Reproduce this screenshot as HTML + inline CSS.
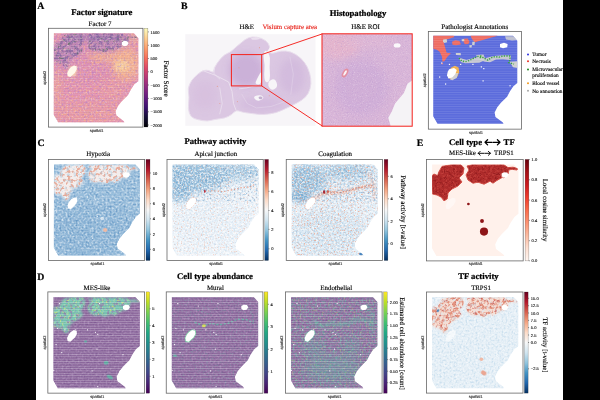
<!DOCTYPE html>
<html><head><meta charset="utf-8"><title>Figure</title>
<style>html,body{margin:0;padding:0;background:#fff;}body{width:600px;height:400px;overflow:hidden;font-family:"Liberation Serif",serif;}svg{display:block;}svg text{text-rendering:geometricPrecision;}</style>
</head><body>
<svg width="600" height="400" viewBox="0 0 600 400">
<defs>
<linearGradient id="cm_magma" x1="0" y1="1" x2="0" y2="0"><stop offset="0.000" stop-color="#000004"/><stop offset="0.100" stop-color="#140e36"/><stop offset="0.200" stop-color="#3b0f70"/><stop offset="0.300" stop-color="#641a80"/><stop offset="0.400" stop-color="#8c2981"/><stop offset="0.500" stop-color="#b73779"/><stop offset="0.600" stop-color="#de4968"/><stop offset="0.700" stop-color="#f7705c"/><stop offset="0.800" stop-color="#fe9f6d"/><stop offset="0.900" stop-color="#fecf92"/><stop offset="1.000" stop-color="#fcfdbf"/></linearGradient>
<linearGradient id="cm_RdBu_r" x1="0" y1="1" x2="0" y2="0"><stop offset="0.000" stop-color="#053061"/><stop offset="0.100" stop-color="#2166ac"/><stop offset="0.200" stop-color="#4393c3"/><stop offset="0.300" stop-color="#92c5de"/><stop offset="0.400" stop-color="#d1e5f0"/><stop offset="0.500" stop-color="#f7f7f7"/><stop offset="0.600" stop-color="#fddbc7"/><stop offset="0.700" stop-color="#f4a582"/><stop offset="0.800" stop-color="#d6604d"/><stop offset="0.900" stop-color="#b2182b"/><stop offset="1.000" stop-color="#67001f"/></linearGradient>
<linearGradient id="cm_viridis" x1="0" y1="1" x2="0" y2="0"><stop offset="0.000" stop-color="#440154"/><stop offset="0.100" stop-color="#482475"/><stop offset="0.200" stop-color="#414487"/><stop offset="0.300" stop-color="#355f8d"/><stop offset="0.400" stop-color="#2a788e"/><stop offset="0.500" stop-color="#21918c"/><stop offset="0.600" stop-color="#22a884"/><stop offset="0.700" stop-color="#44bf70"/><stop offset="0.800" stop-color="#7ad151"/><stop offset="0.900" stop-color="#bddf26"/><stop offset="1.000" stop-color="#fde725"/></linearGradient>
<linearGradient id="cm_Reds" x1="0" y1="1" x2="0" y2="0"><stop offset="0.000" stop-color="#fff5f0"/><stop offset="0.125" stop-color="#fee0d2"/><stop offset="0.250" stop-color="#fcbba1"/><stop offset="0.375" stop-color="#fc9272"/><stop offset="0.500" stop-color="#fb6a4a"/><stop offset="0.625" stop-color="#ef3b2c"/><stop offset="0.750" stop-color="#cb181d"/><stop offset="0.875" stop-color="#a50f15"/><stop offset="1.000" stop-color="#67000d"/></linearGradient>
<filter id="b05" x="-40%" y="-40%" width="180%" height="180%"><feGaussianBlur stdDeviation="0.5"/></filter>
<filter id="b1" x="-40%" y="-40%" width="180%" height="180%"><feGaussianBlur stdDeviation="1"/></filter>
<filter id="b15" x="-40%" y="-40%" width="180%" height="180%"><feGaussianBlur stdDeviation="1.5"/></filter>
<filter id="b2" x="-40%" y="-40%" width="180%" height="180%"><feGaussianBlur stdDeviation="2"/></filter>
<filter id="b3" x="-40%" y="-40%" width="180%" height="180%"><feGaussianBlur stdDeviation="3.5"/></filter>
<filter id="b5" x="-40%" y="-40%" width="180%" height="180%"><feGaussianBlur stdDeviation="5"/></filter>
<pattern id="stripes" patternUnits="userSpaceOnUse" width="10" height="2.36"><rect x="0" y="0" width="10" height="0.7" fill="#fff"/></pattern>
<filter id="nA_w" x="0" y="0" width="100%" height="100%" color-interpolation-filters="sRGB"><feTurbulence type="fractalNoise" baseFrequency="0.55" numOctaves="2" seed="11" result="n"/><feColorMatrix in="n" type="matrix" values="0 0 0 0 1.000  0 0 0 0 0.941  0 0 0 0 0.878  3.0 0 0 0 -1.55"/><feComposite in2="SourceGraphic" operator="in"/></filter>
<filter id="nA_d" x="0" y="0" width="100%" height="100%" color-interpolation-filters="sRGB"><feTurbulence type="fractalNoise" baseFrequency="0.5" numOctaves="2" seed="12" result="n"/><feColorMatrix in="n" type="matrix" values="0 0 0 0 0.682  0 0 0 0 0.486  0 0 0 0 0.769  3.0 0 0 0 -1.35"/><feComposite in2="SourceGraphic" operator="in"/></filter>
<filter id="nA_y" x="0" y="0" width="100%" height="100%" color-interpolation-filters="sRGB"><feTurbulence type="fractalNoise" baseFrequency="0.5" numOctaves="2" seed="13" result="n"/><feColorMatrix in="n" type="matrix" values="0 0 0 0 0.976  0 0 0 0 0.698  0 0 0 0 0.486  3.0 0 0 0 -1.4"/><feComposite in2="SourceGraphic" operator="in"/></filter>
<filter id="nA_p" x="0" y="0" width="100%" height="100%" color-interpolation-filters="sRGB"><feTurbulence type="fractalNoise" baseFrequency="0.3" numOctaves="2" seed="14" result="n"/><feColorMatrix in="n" type="matrix" values="0 0 0 0 0.494  0 0 0 0 0.373  0 0 0 0 0.612  5.0 0 0 0 -2.2"/><feComposite in2="SourceGraphic" operator="in"/></filter>
<filter id="nA_g" x="0" y="0" width="100%" height="100%" color-interpolation-filters="sRGB"><feTurbulence type="fractalNoise" baseFrequency="0.35" numOctaves="2" seed="15" result="n"/><feColorMatrix in="n" type="matrix" values="0 0 0 0 0.373  0 0 0 0 0.435  0 0 0 0 0.424  6.0 0 0 0 -3.6"/><feComposite in2="SourceGraphic" operator="in"/></filter>
<clipPath id="tc1"><polygon points="53.88,33.24 133.88,33.24 138.27,38.18 138.27,81.16 134.34,84.32 130.77,89.65 128.03,94.99 121.81,101.21 118.16,105.66 115.50,111.09 116.33,115.54 123.55,120.88 124.46,122.36 58.09,122.36 53.79,114.75"/></clipPath>
<clipPath id="mesA"><polygon points="60.62,40.18 63.55,35.11 72.34,33.56 82.12,33.56 85.05,36.67 84.07,42.51 80.16,46.41 83.09,50.30 79.18,54.19 73.32,57.11 69.41,61.01 68.63,66.85 65.50,68.60 62.57,64.90 58.66,62.95 54.17,61.98 53.38,54.19 53.38,44.46 55.73,42.51 59.25,44.07"/><polygon points="87.98,34.72 92.86,33.56 124.14,33.56 128.05,36.28 132.93,35.89 137.43,37.26 136.84,38.62 132.35,38.03 129.02,38.42 128.05,42.51 124.14,46.41 121.21,44.46 122.18,46.02 117.30,48.74 113.39,51.47 110.46,49.52 104.59,52.44 98.73,50.49 93.84,51.47 88.96,48.35 87.00,43.49 89.93,38.62"/></clipPath>
<clipPath id="heclip"><path d="M244.90,39.81 Q247.97,37.35 252.26,36.99 Q256.55,36.62 261.45,38.46 Q266.35,40.30 268.32,43.73 Q270.28,47.16 269.54,49.86 Q268.81,52.55 271.01,53.04 Q273.22,53.54 277.14,52.06 Q281.06,50.59 285.97,51.08 Q290.87,51.57 295.77,54.52 Q300.68,57.46 304.35,62.36 Q308.03,67.26 309.62,73.15 Q311.22,79.03 310.85,83.93 Q310.48,88.84 308.28,93.13 Q306.07,97.42 301.17,100.48 Q296.26,103.55 291.11,106.00 Q285.97,108.45 281.06,110.66 Q276.16,112.86 270.03,113.84 Q263.90,114.82 257.77,114.21 Q251.64,113.60 246.74,112.86 Q241.84,112.13 238.90,111.02 Q235.95,109.92 233.99,112.25 Q232.03,114.58 228.35,116.42 Q224.68,118.26 219.77,118.75 Q214.87,119.24 211.19,120.34 Q207.52,121.44 202.61,120.59 Q197.71,119.73 194.28,118.50 Q190.85,117.28 189.37,113.11 Q187.90,108.94 188.64,102.81 Q189.37,96.68 188.52,92.76 Q187.66,88.84 189.50,84.55 Q191.34,80.26 194.52,77.19 Q197.71,74.13 200.41,72.17 Q203.10,70.21 206.04,70.21 Q208.99,70.21 211.19,71.68 Q213.40,73.15 213.89,70.21 Q214.38,67.26 217.08,63.34 Q219.77,59.42 222.23,56.97 Q224.68,54.52 227.74,53.29 Q230.81,52.06 233.26,49.61 Q235.71,47.16 238.77,44.71 Q241.84,42.26 244.90,39.81 Z"/></clipPath>
<clipPath id="roiclip"><rect x="322" y="33.8" width="90.2" height="92.4"/></clipPath>
<filter id="nR_w" x="0" y="0" width="100%" height="100%" color-interpolation-filters="sRGB"><feTurbulence type="fractalNoise" baseFrequency="0.9" numOctaves="1" seed="21" result="n"/><feColorMatrix in="n" type="matrix" values="0 0 0 0 0.953  0 0 0 0 0.902  0 0 0 0 0.953  3.0 0 0 0 -1.6"/><feComposite in2="SourceGraphic" operator="in"/></filter>
<filter id="nR_d" x="0" y="0" width="100%" height="100%" color-interpolation-filters="sRGB"><feTurbulence type="fractalNoise" baseFrequency="0.8" numOctaves="1" seed="22" result="n"/><feColorMatrix in="n" type="matrix" values="0 0 0 0 0.706  0 0 0 0 0.576  0 0 0 0 0.812  3.0 0 0 0 -1.6"/><feComposite in2="SourceGraphic" operator="in"/></filter>
<clipPath id="tc2"><polygon points="433.30,35.87 512.92,35.87 517.29,40.73 517.29,83.06 513.38,86.17 509.83,91.42 507.10,96.68 500.91,102.81 497.27,107.19 494.63,112.54 495.45,116.92 502.64,122.17 503.55,123.63 437.49,123.63 433.21,116.14"/></clipPath>
<filter id="nC_w" x="0" y="0" width="100%" height="100%" color-interpolation-filters="sRGB"><feTurbulence type="fractalNoise" baseFrequency="0.5" numOctaves="2" seed="31" result="n"/><feColorMatrix in="n" type="matrix" values="0 0 0 0 1.000  0 0 0 0 1.000  0 0 0 0 1.000  3.0 0 0 0 -1.25"/><feComposite in2="SourceGraphic" operator="in"/></filter>
<filter id="nC_b" x="0" y="0" width="100%" height="100%" color-interpolation-filters="sRGB"><feTurbulence type="fractalNoise" baseFrequency="0.5" numOctaves="2" seed="32" result="n"/><feColorMatrix in="n" type="matrix" values="0 0 0 0 0.310  0 0 0 0 0.525  0 0 0 0 0.729  3.0 0 0 0 -1.3"/><feComposite in2="SourceGraphic" operator="in"/></filter>
<filter id="nC_w2" x="0" y="0" width="100%" height="100%" color-interpolation-filters="sRGB"><feTurbulence type="fractalNoise" baseFrequency="0.55" numOctaves="2" seed="33" result="n"/><feColorMatrix in="n" type="matrix" values="0 0 0 0 1.000  0 0 0 0 1.000  0 0 0 0 1.000  3.0 0 0 0 -1.15"/><feComposite in2="SourceGraphic" operator="in"/></filter>
<filter id="nC_b2" x="0" y="0" width="100%" height="100%" color-interpolation-filters="sRGB"><feTurbulence type="fractalNoise" baseFrequency="0.5" numOctaves="2" seed="34" result="n"/><feColorMatrix in="n" type="matrix" values="0 0 0 0 0.435  0 0 0 0 0.651  0 0 0 0 0.816  3.0 0 0 0 -1.35"/><feComposite in2="SourceGraphic" operator="in"/></filter>
<filter id="nC_r" x="0" y="0" width="100%" height="100%" color-interpolation-filters="sRGB"><feTurbulence type="fractalNoise" baseFrequency="0.55" numOctaves="2" seed="35" result="n"/><feColorMatrix in="n" type="matrix" values="0 0 0 0 0.933  0 0 0 0 0.604  0 0 0 0 0.486  4.0 0 0 0 -2.1"/><feComposite in2="SourceGraphic" operator="in"/></filter>
<filter id="nC_rr" x="0" y="0" width="100%" height="100%" color-interpolation-filters="sRGB"><feTurbulence type="fractalNoise" baseFrequency="0.34" numOctaves="2" seed="36" result="n"/><feColorMatrix in="n" type="matrix" values="0 0 0 0 0.890  0 0 0 0 0.557  0 0 0 0 0.455  6.0 0 0 0 -2.95"/><feComposite in2="SourceGraphic" operator="in"/></filter>
<filter id="nC_lb" x="0" y="0" width="100%" height="100%" color-interpolation-filters="sRGB"><feTurbulence type="fractalNoise" baseFrequency="0.3" numOctaves="2" seed="37" result="n"/><feColorMatrix in="n" type="matrix" values="0 0 0 0 0.659  0 0 0 0 0.796  0 0 0 0 0.886  5.0 0 0 0 -2.6"/><feComposite in2="SourceGraphic" operator="in"/></filter>
<clipPath id="tc3"><polygon points="53.98,164.45 135.42,164.45 139.89,169.50 139.89,213.44 135.88,216.67 132.25,222.12 129.46,227.57 123.13,233.94 119.41,238.48 116.71,244.04 117.55,248.58 124.90,254.04 125.83,255.55 58.26,255.55 53.89,247.77"/></clipPath>
<clipPath id="mesH"><polygon points="60.84,171.54 63.82,166.37 72.77,164.77 82.72,164.77 85.71,167.96 84.71,173.93 80.73,177.91 83.72,181.89 79.74,185.87 73.77,188.85 69.79,192.83 68.99,198.80 65.81,200.60 62.83,196.81 58.85,194.82 54.27,193.83 53.47,185.87 53.47,175.92 55.86,173.93 59.44,175.52"/><polygon points="88.69,165.97 93.66,164.77 125.50,164.77 129.48,167.56 134.45,167.16 139.03,168.55 138.43,169.95 133.86,169.35 130.47,169.75 129.48,173.93 125.50,177.91 122.51,175.92 123.51,177.51 118.54,180.30 114.56,183.08 111.57,181.09 105.60,184.08 99.63,182.09 94.66,183.08 89.69,179.90 87.70,174.92 90.68,169.95"/></clipPath>
<filter id="nJ_b" x="0" y="0" width="100%" height="100%" color-interpolation-filters="sRGB"><feTurbulence type="fractalNoise" baseFrequency="0.5" numOctaves="2" seed="38" result="n"/><feColorMatrix in="n" type="matrix" values="0 0 0 0 0.561  0 0 0 0 0.729  0 0 0 0 0.855  3.0 0 0 0 -1.3"/><feComposite in2="SourceGraphic" operator="in"/></filter>
<filter id="nJ_w" x="0" y="0" width="100%" height="100%" color-interpolation-filters="sRGB"><feTurbulence type="fractalNoise" baseFrequency="0.55" numOctaves="2" seed="39" result="n"/><feColorMatrix in="n" type="matrix" values="0 0 0 0 1.000  0 0 0 0 1.000  0 0 0 0 1.000  3.0 0 0 0 -1.2"/><feComposite in2="SourceGraphic" operator="in"/></filter>
<filter id="nJ_r" x="0" y="0" width="100%" height="100%" color-interpolation-filters="sRGB"><feTurbulence type="fractalNoise" baseFrequency="0.7" numOctaves="2" seed="40" result="n"/><feColorMatrix in="n" type="matrix" values="0 0 0 0 0.941  0 0 0 0 0.643  0 0 0 0 0.533  5.0 0 0 0 -2.95"/><feComposite in2="SourceGraphic" operator="in"/></filter>
<filter id="nJ_bd" x="0" y="0" width="100%" height="100%" color-interpolation-filters="sRGB"><feTurbulence type="fractalNoise" baseFrequency="0.5" numOctaves="2" seed="43" result="n"/><feColorMatrix in="n" type="matrix" values="0 0 0 0 0.373  0 0 0 0 0.592  0 0 0 0 0.776  4.0 0 0 0 -1.9"/><feComposite in2="SourceGraphic" operator="in"/></filter>
<clipPath id="tc4"><polygon points="172.58,164.46 254.06,164.46 258.53,169.51 258.53,213.49 254.53,216.72 250.90,222.18 248.10,227.64 241.77,234.01 238.05,238.56 235.35,244.12 236.18,248.67 243.54,254.13 244.47,255.65 176.87,255.65 172.49,247.86"/></clipPath>
<filter id="nG_b" x="0" y="0" width="100%" height="100%" color-interpolation-filters="sRGB"><feTurbulence type="fractalNoise" baseFrequency="0.5" numOctaves="2" seed="44" result="n"/><feColorMatrix in="n" type="matrix" values="0 0 0 0 0.525  0 0 0 0 0.702  0 0 0 0 0.839  3.0 0 0 0 -1.25"/><feComposite in2="SourceGraphic" operator="in"/></filter>
<filter id="nG_r" x="0" y="0" width="100%" height="100%" color-interpolation-filters="sRGB"><feTurbulence type="fractalNoise" baseFrequency="0.7" numOctaves="2" seed="45" result="n"/><feColorMatrix in="n" type="matrix" values="0 0 0 0 0.933  0 0 0 0 0.612  0 0 0 0 0.502  5.0 0 0 0 -2.85"/><feComposite in2="SourceGraphic" operator="in"/></filter>
<clipPath id="tc5"><polygon points="291.83,164.46 373.31,164.46 377.78,169.51 377.78,213.49 373.78,216.72 370.15,222.18 367.35,227.64 361.02,234.01 357.30,238.56 354.60,244.12 355.43,248.67 362.79,254.13 363.72,255.65 296.12,255.65 291.74,247.86"/></clipPath>
<filter id="nE_l" x="0" y="0" width="100%" height="100%" color-interpolation-filters="sRGB"><feTurbulence type="fractalNoise" baseFrequency="0.9" numOctaves="1" seed="41" result="n"/><feColorMatrix in="n" type="matrix" values="0 0 0 0 0.816  0 0 0 0 0.322  0 0 0 0 0.290  3.5 0 0 0 -1.8"/><feComposite in2="SourceGraphic" operator="in"/></filter>
<filter id="nE_l2" x="0" y="0" width="100%" height="100%" color-interpolation-filters="sRGB"><feTurbulence type="fractalNoise" baseFrequency="0.4" numOctaves="2" seed="42" result="n"/><feColorMatrix in="n" type="matrix" values="0 0 0 0 0.788  0 0 0 0 0.263  0 0 0 0 0.247  4.0 0 0 0 -1.9"/><feComposite in2="SourceGraphic" operator="in"/></filter>
<filter id="nE_d" x="0" y="0" width="100%" height="100%" color-interpolation-filters="sRGB"><feTurbulence type="fractalNoise" baseFrequency="0.45" numOctaves="2" seed="46" result="n"/><feColorMatrix in="n" type="matrix" values="0 0 0 0 0.490  0 0 0 0 0.059  0 0 0 0 0.078  4.0 0 0 0 -2.0"/><feComposite in2="SourceGraphic" operator="in"/></filter>
<clipPath id="tc6"><polygon points="432.11,164.47 513.97,164.47 518.46,169.55 518.46,213.70 514.44,216.95 510.79,222.43 507.98,227.91 501.62,234.31 497.88,238.87 495.17,244.46 496.01,249.02 503.40,254.51 504.33,256.03 436.41,256.03 432.01,248.21"/></clipPath>
<clipPath id="mesE"><polygon points="439.00,171.60 442.00,166.40 451.00,164.80 461.00,164.80 464.00,168.00 463.00,174.00 459.00,178.00 462.00,182.00 458.00,186.00 452.00,189.00 448.00,193.00 447.20,199.00 444.00,200.80 441.00,197.00 437.00,195.00 432.40,194.00 431.60,186.00 431.60,176.00 434.00,174.00 437.60,175.60"/><polygon points="467.00,166.00 472.00,164.80 504.00,164.80 508.00,167.60 513.00,167.20 517.60,168.60 517.00,170.00 512.40,169.40 509.00,169.80 508.00,174.00 504.00,178.00 501.00,176.00 502.00,177.60 497.00,180.40 493.00,183.20 490.00,181.20 484.00,184.20 478.00,182.20 473.00,183.20 468.00,180.00 466.00,175.00 469.00,170.00"/></clipPath>
<filter id="nD_l" x="0" y="0" width="100%" height="100%" color-interpolation-filters="sRGB"><feTurbulence type="fractalNoise" baseFrequency="0.5" numOctaves="2" seed="51" result="n"/><feColorMatrix in="n" type="matrix" values="0 0 0 0 0.741  0 0 0 0 0.627  0 0 0 0 0.792  3.0 0 0 0 -1.35"/><feComposite in2="SourceGraphic" operator="in"/></filter>
<filter id="nD_d" x="0" y="0" width="100%" height="100%" color-interpolation-filters="sRGB"><feTurbulence type="fractalNoise" baseFrequency="0.5" numOctaves="2" seed="52" result="n"/><feColorMatrix in="n" type="matrix" values="0 0 0 0 0.435  0 0 0 0 0.290  0 0 0 0 0.541  3.0 0 0 0 -1.45"/><feComposite in2="SourceGraphic" operator="in"/></filter>
<filter id="nD_t" x="0" y="0" width="100%" height="100%" color-interpolation-filters="sRGB"><feTurbulence type="fractalNoise" baseFrequency="0.6" numOctaves="2" seed="53" result="n"/><feColorMatrix in="n" type="matrix" values="0 0 0 0 0.310  0 0 0 0 0.690  0 0 0 0 0.612  5.0 0 0 0 -2.75"/><feComposite in2="SourceGraphic" operator="in"/></filter>
<filter id="nD_t2" x="0" y="0" width="100%" height="100%" color-interpolation-filters="sRGB"><feTurbulence type="fractalNoise" baseFrequency="0.45" numOctaves="2" seed="54" result="n"/><feColorMatrix in="n" type="matrix" values="0 0 0 0 0.424  0 0 0 0 0.769  0 0 0 0 0.651  5.0 0 0 0 -2.7"/><feComposite in2="SourceGraphic" operator="in"/></filter>
<filter id="nD_y" x="0" y="0" width="100%" height="100%" color-interpolation-filters="sRGB"><feTurbulence type="fractalNoise" baseFrequency="0.5" numOctaves="2" seed="55" result="n"/><feColorMatrix in="n" type="matrix" values="0 0 0 0 0.812  0 0 0 0 0.902  0 0 0 0 0.416  6.0 0 0 0 -3.6"/><feComposite in2="SourceGraphic" operator="in"/></filter>
<filter id="nD_p" x="0" y="0" width="100%" height="100%" color-interpolation-filters="sRGB"><feTurbulence type="fractalNoise" baseFrequency="0.3" numOctaves="2" seed="56" result="n"/><feColorMatrix in="n" type="matrix" values="0 0 0 0 0.557  0 0 0 0 0.435  0 0 0 0 0.651  5.0 0 0 0 -2.45"/><feComposite in2="SourceGraphic" operator="in"/></filter>
<filter id="nD_g" x="0" y="0" width="100%" height="100%" color-interpolation-filters="sRGB"><feTurbulence type="fractalNoise" baseFrequency="0.45" numOctaves="2" seed="57" result="n"/><feColorMatrix in="n" type="matrix" values="0 0 0 0 0.624  0 0 0 0 0.859  0 0 0 0 0.651  5.0 0 0 0 -2.7"/><feComposite in2="SourceGraphic" operator="in"/></filter>
<clipPath id="tc7"><polygon points="53.46,296.96 135.37,296.96 139.86,302.02 139.86,346.07 135.83,349.31 132.18,354.78 129.38,360.24 123.01,366.62 119.27,371.18 116.55,376.75 117.39,381.30 124.79,386.77 125.72,388.29 57.77,388.29 53.37,380.49"/></clipPath>
<clipPath id="mesM"><polygon points="60.36,304.07 63.36,298.88 72.36,297.29 82.37,297.29 85.37,300.48 84.37,306.46 80.37,310.45 83.37,314.44 79.37,318.43 73.36,321.43 69.36,325.42 68.56,331.40 65.36,333.20 62.36,329.41 58.36,327.41 53.75,326.41 52.95,318.43 52.95,308.46 55.35,306.46 58.96,308.06"/><polygon points="88.37,298.48 93.37,297.29 125.39,297.29 129.39,300.08 134.39,299.68 139.00,301.08 138.40,302.47 133.79,301.88 130.39,302.27 129.39,306.46 125.39,310.45 122.39,308.46 123.39,310.06 118.39,312.85 114.38,315.64 111.38,313.65 105.38,316.64 99.38,314.64 94.37,315.64 89.37,312.45 87.37,307.46 90.37,302.47"/></clipPath>
<clipPath id="tc8"><polygon points="171.86,296.96 253.68,296.96 258.16,302.03 258.16,346.10 254.14,349.34 250.50,354.81 247.69,360.28 241.33,366.66 237.59,371.22 234.88,376.79 235.72,381.35 243.11,386.82 244.04,388.34 176.16,388.34 171.76,380.54"/></clipPath>
<clipPath id="tc9"><polygon points="291.10,296.96 372.88,296.96 377.37,302.03 377.37,346.10 373.35,349.34 369.70,354.81 366.90,360.28 360.54,366.66 356.81,371.22 354.09,376.79 354.94,381.35 362.32,386.82 363.25,388.34 295.40,388.34 291.01,380.54"/></clipPath>
<filter id="nT_b" x="0" y="0" width="100%" height="100%" color-interpolation-filters="sRGB"><feTurbulence type="fractalNoise" baseFrequency="0.5" numOctaves="2" seed="61" result="n"/><feColorMatrix in="n" type="matrix" values="0 0 0 0 0.663  0 0 0 0 0.800  0 0 0 0 0.894  3.0 0 0 0 -1.35"/><feComposite in2="SourceGraphic" operator="in"/></filter>
<filter id="nT_w" x="0" y="0" width="100%" height="100%" color-interpolation-filters="sRGB"><feTurbulence type="fractalNoise" baseFrequency="0.55" numOctaves="2" seed="62" result="n"/><feColorMatrix in="n" type="matrix" values="0 0 0 0 1.000  0 0 0 0 1.000  0 0 0 0 1.000  3.0 0 0 0 -1.3"/><feComposite in2="SourceGraphic" operator="in"/></filter>
<filter id="nT_r" x="0" y="0" width="100%" height="100%" color-interpolation-filters="sRGB"><feTurbulence type="fractalNoise" baseFrequency="0.32" numOctaves="2" seed="63" result="n"/><feColorMatrix in="n" type="matrix" values="0 0 0 0 0.867  0 0 0 0 0.478  0 0 0 0 0.384  5.0 0 0 0 -2.25"/><feComposite in2="SourceGraphic" operator="in"/></filter>
<filter id="nT_rr" x="0" y="0" width="100%" height="100%" color-interpolation-filters="sRGB"><feTurbulence type="fractalNoise" baseFrequency="0.4" numOctaves="2" seed="64" result="n"/><feColorMatrix in="n" type="matrix" values="0 0 0 0 0.698  0 0 0 0 0.157  0 0 0 0 0.180  6.0 0 0 0 -3.5"/><feComposite in2="SourceGraphic" operator="in"/></filter>
<filter id="nT_lb" x="0" y="0" width="100%" height="100%" color-interpolation-filters="sRGB"><feTurbulence type="fractalNoise" baseFrequency="0.3" numOctaves="2" seed="65" result="n"/><feColorMatrix in="n" type="matrix" values="0 0 0 0 0.859  0 0 0 0 0.914  0 0 0 0 0.953  5.0 0 0 0 -2.7"/><feComposite in2="SourceGraphic" operator="in"/></filter>
<clipPath id="tc10"><polygon points="432.10,297.06 513.79,297.06 518.27,302.11 518.27,346.09 514.26,349.32 510.62,354.78 507.81,360.24 501.47,366.61 497.73,371.16 495.02,376.72 495.86,381.27 503.24,386.73 504.17,388.25 436.39,388.25 432.00,380.46"/></clipPath>
<clipPath id="mesT"><polygon points="438.97,304.15 441.97,298.97 450.95,297.38 460.93,297.38 463.92,300.57 462.92,306.54 458.93,310.53 461.93,314.51 457.93,318.50 451.95,321.48 447.96,325.47 447.16,331.44 443.96,333.24 440.97,329.45 436.98,327.46 432.39,326.46 431.59,318.50 431.59,308.53 433.98,306.54 437.58,308.14"/><polygon points="466.92,298.57 471.91,297.38 503.84,297.38 507.83,300.17 512.82,299.77 517.41,301.16 516.81,302.56 512.22,301.96 508.83,302.36 507.83,306.54 503.84,310.53 500.85,308.53 501.84,310.13 496.85,312.92 492.86,315.71 489.87,313.71 483.88,316.70 477.89,314.71 472.90,315.71 467.91,312.52 465.92,307.54 468.91,302.56"/></clipPath>
</defs>
<g opacity="0.999">
<rect x="0" y="0" width="600" height="400" fill="#fff"/>
<rect x="0" y="0" width="36" height="400" fill="#000"/>
<rect x="563" y="0" width="37" height="400" fill="#000"/>
<text x="37.30" y="8.80" font-family='"Liberation Serif", serif' font-size="9.8" font-weight="bold" text-anchor="start" fill="#000" stroke="#000" stroke-width="0.22">A</text>
<text x="180.90" y="8.80" font-family='"Liberation Serif", serif' font-size="9.8" font-weight="bold" text-anchor="start" fill="#000" stroke="#000" stroke-width="0.22">B</text>
<text x="37.60" y="146.30" font-family='"Liberation Serif", serif' font-size="9.8" font-weight="bold" text-anchor="start" fill="#000" stroke="#000" stroke-width="0.22">C</text>
<text x="37.20" y="279.50" font-family='"Liberation Serif", serif' font-size="9.8" font-weight="bold" text-anchor="start" fill="#000" stroke="#000" stroke-width="0.22">D</text>
<text x="416.80" y="145.60" font-family='"Liberation Serif", serif' font-size="9.8" font-weight="bold" text-anchor="start" fill="#000" stroke="#000" stroke-width="0.22">E</text>
<text x="101.80" y="15.40" font-family='"Liberation Serif", serif' font-size="8.7" font-weight="bold" text-anchor="middle" fill="#000" stroke="#000" stroke-width="0.22">Factor signature</text>
<text x="358.00" y="15.60" font-family='"Liberation Serif", serif' font-size="8.7" font-weight="bold" text-anchor="middle" fill="#000" stroke="#000" stroke-width="0.22">Histopathology</text>
<text x="215.40" y="144.30" font-family='"Liberation Serif", serif' font-size="8.7" font-weight="bold" text-anchor="middle" fill="#000" stroke="#000" stroke-width="0.22">Pathway activity</text>
<text x="215.00" y="279.00" font-family='"Liberation Serif", serif' font-size="8.7" font-weight="bold" text-anchor="middle" fill="#000" stroke="#000" stroke-width="0.22">Cell type abundance</text>
<text x="449.00" y="145.10" font-family='"Liberation Serif", serif' font-size="8.7" font-weight="bold" text-anchor="start" fill="#000" stroke="#000" stroke-width="0.22">Cell type</text>
<text x="503.60" y="145.10" font-family='"Liberation Serif", serif' font-size="8.7" font-weight="bold" text-anchor="start" fill="#000" stroke="#000" stroke-width="0.22">TF</text>
<path d="M492.00,142.30 L485.00,142.30 M487.60,139.70 L485.00,142.30 L487.60,144.90" fill="none" stroke="#000" stroke-width="1.25" stroke-linecap="round" stroke-linejoin="round"/>
<path d="M493.00,142.30 L500.00,142.30 M497.40,139.70 L500.00,142.30 L497.40,144.90" fill="none" stroke="#000" stroke-width="1.25" stroke-linecap="round" stroke-linejoin="round"/>
<text x="478.40" y="279.00" font-family='"Liberation Serif", serif' font-size="8.7" font-weight="bold" text-anchor="middle" fill="#000" stroke="#000" stroke-width="0.22">TF activity</text>
<g clip-path="url(#tc1)">
<rect x="48.40" y="28.30" width="94.50" height="98.80" fill="#e391b0" opacity="1"/>
<ellipse cx="89.81" cy="57.94" rx="47.25" ry="24.70" fill="#d98ab4" opacity="0.6" filter="url(#b5)"/>
<ellipse cx="125.47" cy="63.87" rx="14.17" ry="16.80" fill="#f6b48c" opacity="0.9" filter="url(#b3)"/>
<ellipse cx="121.81" cy="65.84" rx="7.56" ry="5.93" fill="#fbd8a0" opacity="0.8" filter="url(#b2)"/>
<ellipse cx="103.53" cy="56.95" rx="15.12" ry="4.94" fill="#f4b090" opacity="0.75" filter="url(#b2)"/>
<ellipse cx="133.70" cy="38.18" rx="4.73" ry="4.94" fill="#f4b494" opacity="0.7" filter="url(#b2)"/>
<ellipse cx="55.98" cy="89.56" rx="4.73" ry="19.76" fill="#f2ac90" opacity="0.55" filter="url(#b3)"/>
<ellipse cx="89.81" cy="113.27" rx="37.80" ry="9.88" fill="#ec9c9c" opacity="0.55" filter="url(#b3)"/>
<ellipse cx="112.67" cy="89.56" rx="11.34" ry="11.86" fill="#ee9ea0" opacity="0.5" filter="url(#b3)"/>
<rect x="48.40" y="28.30" width="94.50" height="98.80" fill="#000" opacity="0.6" filter="url(#nA_d)"/>
<rect x="48.40" y="28.30" width="94.50" height="98.80" fill="#000" opacity="0.6" filter="url(#nA_y)"/>
<polygon points="60.62,40.18 63.55,35.11 72.34,33.56 82.12,33.56 85.05,36.67 84.07,42.51 80.16,46.41 83.09,50.30 79.18,54.19 73.32,57.11 69.41,61.01 68.63,66.85 65.50,68.60 62.57,64.90 58.66,62.95 54.17,61.98 53.38,54.19 53.38,44.46 55.73,42.51 59.25,44.07" fill="#a27cb8" opacity="0.45" filter="url(#b2)"/>
<polygon points="87.98,34.72 92.86,33.56 124.14,33.56 128.05,36.28 132.93,35.89 137.43,37.26 136.84,38.62 132.35,38.03 129.02,38.42 128.05,42.51 124.14,46.41 121.21,44.46 122.18,46.02 117.30,48.74 113.39,51.47 110.46,49.52 104.59,52.44 98.73,50.49 93.84,51.47 88.96,48.35 87.00,43.49 89.93,38.62" fill="#a27cb8" opacity="0.45" filter="url(#b2)"/>
<ellipse cx="94.38" cy="37.19" rx="28.35" ry="3.46" fill="#9a74b2" opacity="0.55" filter="url(#b15)"/>
<g clip-path="url(#mesA)">
<rect x="48.40" y="28.30" width="94.50" height="98.80" fill="#000" opacity="0.75" filter="url(#nA_p)"/>
<rect x="48.40" y="28.30" width="94.50" height="98.80" fill="#000" opacity="0.8" filter="url(#nA_g)"/>
</g>
<ellipse cx="72.62" cy="71.28" rx="3.97" ry="5.14" fill="#f8d6ac" opacity="0.85" filter="url(#b1)"/>
<rect x="48.40" y="28.30" width="94.50" height="98.80" fill="#000" opacity="0.4" filter="url(#nA_w)"/>
<rect x="48.40" y="28.30" width="94.50" height="98.80" fill="url(#stripes)" opacity="0.14"/>
</g>
<polygon points="73.81,65.55 76.56,66.34 76.83,69.30 74.91,72.76 72.17,75.23 70.34,76.91 67.69,76.22 67.14,73.25 68.78,69.80 70.80,67.33" fill="#fff8ea"/>
<polygon points="121.81,42.13 124.10,40.75 127.30,41.14 128.58,43.32 127.02,45.69 123.82,46.18 121.81,44.70" fill="#fff"/>
<rect x="48.40" y="28.30" width="94.50" height="98.80" fill="none" stroke="#666" stroke-width="0.8"/>
<rect x="144.00" y="28.30" width="3.90" height="98.70" fill="url(#cm_magma)" stroke="#222" stroke-width="0.3" stroke-opacity="0.7"/>
<line x1="147.90" x2="148.90" y1="31.90" y2="31.90" stroke="#222" stroke-width="0.5"/>
<text x="150.60" y="33.51" font-family='"Liberation Sans", sans-serif' font-size="4.05" font-weight="normal" text-anchor="start" fill="#111" stroke="#111" stroke-width="0.12">1500</text>
<line x1="147.90" x2="148.90" y1="45.30" y2="45.30" stroke="#222" stroke-width="0.5"/>
<text x="150.60" y="46.91" font-family='"Liberation Sans", sans-serif' font-size="4.05" font-weight="normal" text-anchor="start" fill="#111" stroke="#111" stroke-width="0.12">1000</text>
<line x1="147.90" x2="148.90" y1="58.50" y2="58.50" stroke="#222" stroke-width="0.5"/>
<text x="150.60" y="60.11" font-family='"Liberation Sans", sans-serif' font-size="4.05" font-weight="normal" text-anchor="start" fill="#111" stroke="#111" stroke-width="0.12">500</text>
<line x1="147.90" x2="148.90" y1="71.80" y2="71.80" stroke="#222" stroke-width="0.5"/>
<text x="150.60" y="73.41" font-family='"Liberation Sans", sans-serif' font-size="4.05" font-weight="normal" text-anchor="start" fill="#111" stroke="#111" stroke-width="0.12">0</text>
<line x1="147.90" x2="148.90" y1="85.00" y2="85.00" stroke="#222" stroke-width="0.5"/>
<text x="150.60" y="86.61" font-family='"Liberation Sans", sans-serif' font-size="4.05" font-weight="normal" text-anchor="start" fill="#111" stroke="#111" stroke-width="0.12">−500</text>
<line x1="147.90" x2="148.90" y1="98.40" y2="98.40" stroke="#222" stroke-width="0.5"/>
<text x="150.60" y="100.01" font-family='"Liberation Sans", sans-serif' font-size="4.05" font-weight="normal" text-anchor="start" fill="#111" stroke="#111" stroke-width="0.12">−1000</text>
<line x1="147.90" x2="148.90" y1="111.80" y2="111.80" stroke="#222" stroke-width="0.5"/>
<text x="150.60" y="113.41" font-family='"Liberation Sans", sans-serif' font-size="4.05" font-weight="normal" text-anchor="start" fill="#111" stroke="#111" stroke-width="0.12">−1500</text>
<line x1="147.90" x2="148.90" y1="125.00" y2="125.00" stroke="#222" stroke-width="0.5"/>
<text x="150.60" y="126.61" font-family='"Liberation Sans", sans-serif' font-size="4.05" font-weight="normal" text-anchor="start" fill="#111" stroke="#111" stroke-width="0.12">−2000</text>
<text x="100.00" y="26.20" font-family='"Liberation Serif", serif' font-size="6.9" font-weight="normal" text-anchor="middle" fill="#000" stroke="#000" stroke-width="0.14">Factor 7</text>
<text x="96.65" y="131.50" font-family='"Liberation Sans", sans-serif' font-size="4.05" font-weight="normal" text-anchor="middle" fill="#222" stroke="#222" stroke-width="0.1">spatial1</text>
<text x="46.10" y="77.70" font-family='"Liberation Sans", sans-serif' font-size="4.05" font-weight="normal" text-anchor="middle" fill="#222" transform="rotate(-90 46.10 77.70)" stroke="#222" stroke-width="0.1">spatial2</text>
<text x="163.80" y="78.60" font-family='"Liberation Serif", serif' font-size="7.1" font-weight="normal" text-anchor="middle" fill="#000" transform="rotate(90 163.80 78.60)" stroke="#000" stroke-width="0.14">Factor Score</text>
<rect x="185.3" y="34.2" width="130.2" height="91.6" fill="#f7f5f8"/>
<path d="M244.90,39.81 Q247.97,37.35 252.26,36.99 Q256.55,36.62 261.45,38.46 Q266.35,40.30 268.32,43.73 Q270.28,47.16 269.54,49.86 Q268.81,52.55 271.01,53.04 Q273.22,53.54 277.14,52.06 Q281.06,50.59 285.97,51.08 Q290.87,51.57 295.77,54.52 Q300.68,57.46 304.35,62.36 Q308.03,67.26 309.62,73.15 Q311.22,79.03 310.85,83.93 Q310.48,88.84 308.28,93.13 Q306.07,97.42 301.17,100.48 Q296.26,103.55 291.11,106.00 Q285.97,108.45 281.06,110.66 Q276.16,112.86 270.03,113.84 Q263.90,114.82 257.77,114.21 Q251.64,113.60 246.74,112.86 Q241.84,112.13 238.90,111.02 Q235.95,109.92 233.99,112.25 Q232.03,114.58 228.35,116.42 Q224.68,118.26 219.77,118.75 Q214.87,119.24 211.19,120.34 Q207.52,121.44 202.61,120.59 Q197.71,119.73 194.28,118.50 Q190.85,117.28 189.37,113.11 Q187.90,108.94 188.64,102.81 Q189.37,96.68 188.52,92.76 Q187.66,88.84 189.50,84.55 Q191.34,80.26 194.52,77.19 Q197.71,74.13 200.41,72.17 Q203.10,70.21 206.04,70.21 Q208.99,70.21 211.19,71.68 Q213.40,73.15 213.89,70.21 Q214.38,67.26 217.08,63.34 Q219.77,59.42 222.23,56.97 Q224.68,54.52 227.74,53.29 Q230.81,52.06 233.26,49.61 Q235.71,47.16 238.77,44.71 Q241.84,42.26 244.90,39.81 Z" fill="#dbc7e2" stroke="#e9deed" stroke-width="1.0"/>
<g clip-path="url(#heclip)">
<ellipse cx="246" cy="70" rx="17" ry="17" fill="#c9aed7" opacity="0.9" filter="url(#b3)"/>
<ellipse cx="292" cy="76" rx="13" ry="18" fill="#d0b8dc" opacity="0.75" filter="url(#b3)"/>
<ellipse cx="262" cy="104" rx="22" ry="7" fill="#d0b7dc" opacity="0.7" filter="url(#b3)"/>
<ellipse cx="205" cy="95" rx="12" ry="14" fill="#d6bddd" opacity="0.6" filter="url(#b3)"/>
</g>
<path d="M264.14,52.84 Q265.19,49.69 266.69,51.34 Q268.19,52.99 269.24,55.24 Q270.28,57.49 269.84,61.99 Q269.39,66.48 269.84,71.73 Q270.28,76.98 269.54,79.83 Q268.79,82.67 266.84,82.22 Q264.89,81.78 264.44,77.88 Q263.99,73.98 264.44,69.48 Q264.89,64.98 263.99,60.49 Q263.09,55.99 264.14,52.84 Z" fill="#f7f5f8"/>
<path d="M260.39,72.78 Q261.29,71.28 261.44,78.03 Q261.59,84.77 258.14,84.47 Q254.69,84.17 255.89,81.48 Q257.09,78.78 258.29,76.53 Q259.49,74.28 260.39,72.78 Z" fill="#f7f5f8"/>
<path d="M268.49,49.39 Q270.58,46.39 271.93,46.09 Q273.28,45.79 272.53,48.49 Q271.78,51.19 269.84,52.54 Q267.89,53.89 267.14,53.14 Q266.39,52.39 268.49,49.39 Z" fill="#f7f5f8"/>
<path d="M251.24,38.90 Q250.49,37.70 254.99,37.55 Q259.49,37.40 259.79,38.45 Q260.09,39.50 256.04,39.80 Q251.99,40.10 251.24,38.90 Z" fill="#efe6f2" opacity="0.8"/>
<path d="M268.32,83.20 Q268.81,80.50 271.99,79.52 Q275.18,78.54 276.65,82.71 Q278.12,86.88 274.93,88.84 Q271.75,90.80 269.79,88.35 Q267.82,85.90 268.32,83.20 Z" fill="#f7f5f8"/>
<path d="M254.83,98.89 Q252.62,96.19 257.04,95.46 Q261.45,94.72 262.92,96.68 Q264.39,98.64 260.72,100.12 Q257.04,101.59 254.83,98.89 Z" fill="#f7f5f8"/>
<path d="M258.75,98.15 Q258.02,96.68 259.98,96.44 Q261.94,96.19 262.43,97.42 Q262.92,98.64 261.21,99.13 Q259.49,99.62 258.75,98.15 Z" fill="#8f6aa8" opacity="0.5"/>
<path d="M203.10,70.70 L216.10,75.60 L228.60,81.97 L232.03,91.29 L233.50,103.55 L235.95,109.92" fill="none" stroke="#eadfee" stroke-width="1.0" stroke-linejoin="round" stroke-linecap="round" opacity="1"/>
<path d="M214.38,67.26 L213.89,73.64 L219.77,79.03" fill="none" stroke="#eadfee" stroke-width="0.9" stroke-linejoin="round" stroke-linecap="round" opacity="1"/>
<path d="M219.77,87.86 L222.23,103.55 L219.77,113.84" fill="none" stroke="#eadfee" stroke-width="0.8" stroke-linejoin="round" stroke-linecap="round" opacity="1"/>
<path d="M239.39,88.84 L246.74,87.86 L256.55,85.41" fill="none" stroke="#eadfee" stroke-width="0.8" stroke-linejoin="round" stroke-linecap="round" opacity="1"/>
<path d="M241.84,94.23 L247.23,103.55 L256.55,107.96 L271.26,106.49 L285.97,101.10" fill="none" stroke="#e4d6ea" stroke-width="0.7" stroke-linejoin="round" stroke-linecap="round" opacity="0.8"/>
<path d="M289.89,56.97 L293.32,74.13 L290.87,94.23" fill="none" stroke="#e4d6ea" stroke-width="0.7" stroke-linejoin="round" stroke-linecap="round" opacity="0.7"/>
<circle cx="238.90" cy="67.75" r="0.55" fill="#e59a8a" opacity="0.8"/>
<circle cx="237.43" cy="101.59" r="0.55" fill="#e59a8a" opacity="0.8"/>
<circle cx="219.77" cy="103.55" r="0.55" fill="#e59a8a" opacity="0.8"/>
<circle cx="217.32" cy="86.39" r="0.55" fill="#e59a8a" opacity="0.8"/>
<circle cx="269.30" cy="95.70" r="0.55" fill="#e59a8a" opacity="0.8"/>
<circle cx="259.49" cy="47.65" r="0.55" fill="#e59a8a" opacity="0.8"/>
<rect x="231.4" y="54.6" width="30.3" height="31.3" fill="none" stroke="#f4221c" stroke-width="1.0"/>
<line x1="261.7" y1="54.6" x2="322.3" y2="33.9" stroke="#f4221c" stroke-width="0.95"/>
<line x1="261.7" y1="85.9" x2="322.3" y2="126.0" stroke="#f4221c" stroke-width="0.95"/>
<text x="246.80" y="28.60" font-family='"Liberation Serif", serif' font-size="6.9" font-weight="normal" text-anchor="middle" fill="#000" stroke="#000" stroke-width="0.14">H&amp;E</text>
<text x="289.80" y="28.60" font-family='"Liberation Serif", serif' font-size="6.85" font-weight="normal" text-anchor="middle" fill="#e8261e" stroke="#e8261e" stroke-width="0.14">Visium capture area</text>
<text x="365.50" y="29.30" font-family='"Liberation Serif", serif' font-size="7.0" font-weight="normal" text-anchor="middle" fill="#000" stroke="#000" stroke-width="0.14">H&amp;E ROI</text>
<g clip-path="url(#roiclip)">
<rect x="322.00" y="33.80" width="90.20" height="92.40" fill="#d9b6d8" opacity="1"/>
<ellipse cx="335.35" cy="44.89" rx="25.26" ry="14.78" fill="#e6b6cc" opacity="0.85" filter="url(#b3)"/>
<ellipse cx="370.25" cy="41.19" rx="27.06" ry="6.47" fill="#e0b8d4" opacity="0.7" filter="url(#b3)"/>
<ellipse cx="361.53" cy="87.39" rx="27.06" ry="27.72" fill="#cbaad8" opacity="0.6" filter="url(#b5)"/>
<rect x="322.00" y="33.80" width="90.20" height="92.40" fill="#000" opacity="0.45" filter="url(#nR_d)"/>
<rect x="322.00" y="33.80" width="90.20" height="92.40" fill="#000" opacity="0.45" filter="url(#nR_w)"/>
<polygon points="412.72,80.00 407.52,83.64 403.88,93.00 395.04,103.40 391.92,111.20 388.28,117.70 390.88,126.80 412.72,126.80" fill="#f5f3f6"/>
<ellipse cx="397.12" cy="45.42" rx="3.4" ry="2.2" fill="#fbf8fb"/>
<ellipse cx="345.12" cy="72.98" rx="2.6" ry="4.8" fill="#e48fa0" transform="rotate(30 345.12 72.98)"/>
<ellipse cx="345.12" cy="72.98" rx="1.1" ry="3.0" fill="#fbf4f6" transform="rotate(30 345.12 72.98)"/>
</g>
<rect x="322" y="33.8" width="90.2" height="92.4" fill="none" stroke="#f4221c" stroke-width="1"/>
<g clip-path="url(#tc2)">
<rect x="428.35" y="31.50" width="93.15" height="97.65" fill="#5c6cdc" opacity="1"/>
<polygon points="432.67,34.67 453.09,34.67 454.37,37.00 449.24,38.87 445.50,39.80 443.87,42.84 445.50,48.67 446.67,52.75 450.87,53.34 447.37,56.84 444.57,61.04 442.47,61.74 442.00,56.84 439.67,51.70 436.87,49.84 432.67,48.67" fill="#ee6c62" opacity="1"/>
<polygon points="451.92,41.67 455.42,40.27 459.51,41.09 460.91,44.59 456.00,45.29 452.50,44.70" fill="#ee6c62" opacity="1"/>
<polygon points="463.59,38.87 467.67,38.40 469.54,41.67 468.37,44.12 464.76,44.35 463.59,41.67" fill="#ee6c62" opacity="1"/>
<polygon points="470.47,34.67 498.01,34.67 496.84,36.07 488.68,38.17 482.84,39.92 478.18,41.20 474.91,42.37 473.04,40.50 471.17,37.58" fill="#ee6c62" opacity="1"/>
<polygon points="441.54,62.91 442.94,62.91 442.94,64.31 441.54,64.31" fill="#ee6c62" opacity="1"/>
<polygon points="443.17,39.57 446.67,39.10 447.14,42.14 444.34,43.07 442.94,41.67" fill="#cfcfcf" opacity="1"/>
<polygon points="461.61,39.33 464.17,39.10 464.41,41.20 461.84,41.20" fill="#cfcfcf" opacity="1"/>
<polygon points="472.34,41.67 474.91,41.67 474.44,45.17 472.11,44.94" fill="#cfcfcf" opacity="1"/>
<polygon points="469.31,45.17 471.87,44.94 471.64,47.50 469.54,47.50" fill="#cfcfcf" opacity="1"/>
<polygon points="455.77,53.10 460.67,53.10 460.91,55.20 456.00,54.97" fill="#cfcfcf" opacity="1"/>
<polygon points="505.00,36.20 517.20,36.20 517.20,40.00 512.00,40.40 506.00,39.60" fill="#cfcfcf" opacity="0.85"/>
<polygon points="458.57,57.54 466.51,60.11 477.01,57.07 482.84,56.14 484.01,60.57 479.34,62.67 472.34,62.91 465.34,63.37 461.14,62.21" fill="#cfcfcf" opacity="0.9"/>
<polygon points="476.00,55.00 483.50,54.40 485.00,58.20 490.50,56.80 496.00,55.80 504.00,55.20 511.00,55.60 510.60,60.00 503.00,59.20 496.00,59.60 490.00,62.20 485.00,61.80 479.00,59.60" fill="#cfcfcf" opacity="0.9"/>
<polygon points="509.60,61.80 517.60,61.20 517.60,68.00 513.00,67.20" fill="#cfcfcf" opacity="1"/>
<polyline points="459.04,58.00 461.84,61.04 465.34,61.74 468.84,60.57 471.87,59.17 474.91,57.54 477.94,56.37 481.21,58.24 480.00,55.40 484.00,58.20 488.00,60.20 491.60,57.60 495.00,56.60 499.00,57.20 503.00,56.00 510.00,56.00 510.00,60.00 508.60,62.60 514.00,64.20" fill="none" stroke="#35a33a" stroke-width="1.4" opacity="1" stroke-linecap="butt" stroke-linejoin="round" stroke-dasharray="1.3 1.3"/>
<polygon points="450.52,67.93 454.90,65.83 458.57,67.58 459.27,72.13 456.82,77.39 452.27,79.84 449.12,78.79 452.27,75.29" fill="#f1b04e" opacity="1"/>
<polygon points="454.02,73.88 458.22,72.83 456.82,77.74 452.27,80.19 449.82,79.14" fill="#cfcfcf" opacity="1"/>
<rect x="428.35" y="31.50" width="93.15" height="97.65" fill="url(#stripes)" opacity="0.13"/>
</g>
<polygon points="449.12,69.33 454.02,67.93 456.82,70.03 455.42,73.88 452.27,77.39 448.42,78.44 447.02,75.29 447.72,71.78" fill="#fff" opacity="1"/>
<polygon points="500.00,44.00 504.00,42.80 507.60,44.00 507.20,47.20 503.00,48.20 500.00,47.20" fill="#fff" opacity="1"/>
<rect x="472.34" y="63.83" width="1.2" height="1.2" fill="#fff"/>
<rect x="480.74" y="66.28" width="1.2" height="1.2" fill="#fff"/>
<rect x="483.19" y="68.03" width="1.2" height="1.2" fill="#fff"/>
<rect x="482.49" y="80.29" width="1.2" height="1.2" fill="#fff"/>
<rect x="445.01" y="83.44" width="1.2" height="1.2" fill="#fff"/>
<rect x="439.06" y="76.44" width="1.2" height="1.2" fill="#fff"/>
<rect x="448.87" y="63.83" width="1.2" height="1.2" fill="#fff"/>
<rect x="441.16" y="62.43" width="1.2" height="1.2" fill="#fff"/>
<rect x="509.46" y="85.19" width="1.2" height="1.2" fill="#fff"/>
<rect x="460.08" y="63.83" width="1.2" height="1.2" fill="#fff"/>
<rect x="428.35" y="31.50" width="93.15" height="97.65" fill="none" stroke="#666" stroke-width="0.8"/>
<text x="474.80" y="29.20" font-family='"Liberation Serif", serif' font-size="7.0" font-weight="normal" text-anchor="middle" fill="#000" stroke="#000" stroke-width="0.14">Pathologist Annotations</text>
<text x="475.93" y="133.55" font-family='"Liberation Sans", sans-serif' font-size="4.05" font-weight="normal" text-anchor="middle" fill="#222" stroke="#222" stroke-width="0.1">spatial1</text>
<text x="426.05" y="80.33" font-family='"Liberation Sans", sans-serif' font-size="4.05" font-weight="normal" text-anchor="middle" fill="#222" transform="rotate(-90 426.05 80.33)" stroke="#222" stroke-width="0.1">spatial2</text>
<circle cx="528" cy="54.50" r="1.0" fill="#2a2fe0"/>
<text x="532.30" y="56.30" font-family='"Liberation Serif", serif' font-size="5.3" font-weight="normal" text-anchor="start" fill="#000" stroke="#000" stroke-width="0.14">Tumor</text>
<circle cx="528" cy="61.20" r="1.0" fill="#e8342a"/>
<text x="532.30" y="63.00" font-family='"Liberation Serif", serif' font-size="5.3" font-weight="normal" text-anchor="start" fill="#000" stroke="#000" stroke-width="0.14">Necrosis</text>
<circle cx="528" cy="69.40" r="1.0" fill="#1f8a1f"/>
<text x="532.30" y="71.20" font-family='"Liberation Serif", serif' font-size="5.3" font-weight="normal" text-anchor="start" fill="#000" stroke="#000" stroke-width="0.14">Microvascular</text>
<text x="532.30" y="76.80" font-family='"Liberation Serif", serif' font-size="5.3" font-weight="normal" text-anchor="start" fill="#000" stroke="#000" stroke-width="0.14">proliferation</text>
<circle cx="528" cy="83.20" r="1.0" fill="#f39a1f"/>
<text x="532.30" y="85.00" font-family='"Liberation Serif", serif' font-size="5.3" font-weight="normal" text-anchor="start" fill="#000" stroke="#000" stroke-width="0.14">Blood vessel</text>
<circle cx="528" cy="90.70" r="1.0" fill="#a8a8a8"/>
<text x="532.30" y="92.50" font-family='"Liberation Serif", serif' font-size="5.3" font-weight="normal" text-anchor="start" fill="#000" stroke="#000" stroke-width="0.14">No annotation</text>
<g clip-path="url(#tc3)">
<rect x="48.40" y="159.40" width="96.20" height="101.00" fill="#94bbda" opacity="1"/>
<ellipse cx="90.56" cy="232.12" rx="48.10" ry="25.25" fill="#86b0d4" opacity="0.6" filter="url(#b5)"/>
<rect x="48.40" y="159.40" width="96.20" height="101.00" fill="#000" opacity="0.55" filter="url(#nC_b)"/>
<rect x="48.40" y="159.40" width="96.20" height="101.00" fill="#000" opacity="0.5" filter="url(#nC_w)"/>
<polygon points="60.84,171.54 63.82,166.37 72.77,164.77 82.72,164.77 85.71,167.96 84.71,173.93 80.73,177.91 83.72,181.89 79.74,185.87 73.77,188.85 69.79,192.83 68.99,198.80 65.81,200.60 62.83,196.81 58.85,194.82 54.27,193.83 53.47,185.87 53.47,175.92 55.86,173.93 59.44,175.52" fill="#f8f0ee" opacity="0.95" filter="url(#b1)"/>
<polygon points="88.69,165.97 93.66,164.77 125.50,164.77 129.48,167.56 134.45,167.16 139.03,168.55 138.43,169.95 133.86,169.35 130.47,169.75 129.48,173.93 125.50,177.91 122.51,175.92 123.51,177.51 118.54,180.30 114.56,183.08 111.57,181.09 105.60,184.08 99.63,182.09 94.66,183.08 89.69,179.90 87.70,174.92 90.68,169.95" fill="#f8f0ee" opacity="0.95" filter="url(#b1)"/>
<g clip-path="url(#mesH)">
<rect x="48.40" y="159.40" width="96.20" height="101.00" fill="#000" opacity="0.7" filter="url(#nC_rr)"/>
<rect x="48.40" y="159.40" width="96.20" height="101.00" fill="#000" opacity="0.6" filter="url(#nC_lb)"/>
</g>
<ellipse cx="105.17" cy="230.10" rx="2.12" ry="2.02" fill="#f3b9a2" opacity="0.95" filter="url(#b05)"/>
<ellipse cx="102.19" cy="218.48" rx="1.92" ry="1.82" fill="#e6eff6" opacity="0.8" filter="url(#b05)"/>
<rect x="48.40" y="159.40" width="96.20" height="101.00" fill="url(#stripes)" opacity="0.1"/>
</g>
<polygon points="74.27,197.48 77.06,198.28 77.34,201.31 75.39,204.85 72.59,207.38 70.73,209.09 68.03,208.38 67.48,205.35 69.15,201.82 71.20,199.29" fill="#fff"/>
<polygon points="123.13,173.54 125.46,172.13 128.72,172.53 130.02,174.75 128.44,177.18 125.18,177.68 123.13,176.17" fill="#fff"/>
<rect x="87.22" y="196.72" width="1.1" height="1.1" fill="#fff" opacity="0.9"/>
<rect x="95.13" y="199.25" width="1.1" height="1.1" fill="#fff" opacity="0.9"/>
<rect x="97.45" y="201.27" width="1.1" height="1.1" fill="#fff" opacity="0.9"/>
<rect x="96.71" y="215.91" width="1.1" height="1.1" fill="#fff" opacity="0.9"/>
<rect x="61.62" y="219.45" width="1.1" height="1.1" fill="#fff" opacity="0.9"/>
<rect x="56.04" y="211.37" width="1.1" height="1.1" fill="#fff" opacity="0.9"/>
<rect x="64.88" y="196.72" width="1.1" height="1.1" fill="#fff" opacity="0.9"/>
<rect x="57.43" y="195.21" width="1.1" height="1.1" fill="#fff" opacity="0.9"/>
<rect x="122.58" y="221.47" width="1.1" height="1.1" fill="#fff" opacity="0.9"/>
<rect x="75.58" y="196.72" width="1.1" height="1.1" fill="#fff" opacity="0.9"/>
<rect x="79.77" y="172.99" width="1.1" height="1.1" fill="#fff" opacity="0.9"/>
<rect x="99.31" y="170.47" width="1.1" height="1.1" fill="#fff" opacity="0.9"/>
<rect x="59.29" y="170.47" width="1.1" height="1.1" fill="#fff" opacity="0.9"/>
<rect x="91.87" y="237.63" width="1.1" height="1.1" fill="#fff" opacity="0.9"/>
<rect x="97.45" y="253.28" width="1.1" height="1.1" fill="#fff" opacity="0.9"/>
<rect x="53.71" y="237.12" width="1.1" height="1.1" fill="#fff" opacity="0.9"/>
<rect x="48.40" y="159.40" width="96.20" height="101.00" fill="none" stroke="#666" stroke-width="0.8"/>
<rect x="146.00" y="159.40" width="4.00" height="101.10" fill="url(#cm_RdBu_r)" stroke="#222" stroke-width="0.3" stroke-opacity="0.7"/>
<line x1="150.00" x2="151.00" y1="173.00" y2="173.00" stroke="#222" stroke-width="0.5"/>
<text x="152.70" y="174.61" font-family='"Liberation Sans", sans-serif' font-size="4.05" font-weight="normal" text-anchor="start" fill="#111" stroke="#111" stroke-width="0.12">10</text>
<line x1="150.00" x2="151.00" y1="188.30" y2="188.30" stroke="#222" stroke-width="0.5"/>
<text x="152.70" y="189.91" font-family='"Liberation Sans", sans-serif' font-size="4.05" font-weight="normal" text-anchor="start" fill="#111" stroke="#111" stroke-width="0.12">8</text>
<line x1="150.00" x2="151.00" y1="203.70" y2="203.70" stroke="#222" stroke-width="0.5"/>
<text x="152.70" y="205.31" font-family='"Liberation Sans", sans-serif' font-size="4.05" font-weight="normal" text-anchor="start" fill="#111" stroke="#111" stroke-width="0.12">6</text>
<line x1="150.00" x2="151.00" y1="218.80" y2="218.80" stroke="#222" stroke-width="0.5"/>
<text x="152.70" y="220.41" font-family='"Liberation Sans", sans-serif' font-size="4.05" font-weight="normal" text-anchor="start" fill="#111" stroke="#111" stroke-width="0.12">4</text>
<line x1="150.00" x2="151.00" y1="234.20" y2="234.20" stroke="#222" stroke-width="0.5"/>
<text x="152.70" y="235.81" font-family='"Liberation Sans", sans-serif' font-size="4.05" font-weight="normal" text-anchor="start" fill="#111" stroke="#111" stroke-width="0.12">2</text>
<line x1="150.00" x2="151.00" y1="249.30" y2="249.30" stroke="#222" stroke-width="0.5"/>
<text x="152.70" y="250.91" font-family='"Liberation Sans", sans-serif' font-size="4.05" font-weight="normal" text-anchor="start" fill="#111" stroke="#111" stroke-width="0.12">0</text>
<text x="98.20" y="155.60" font-family='"Liberation Serif", serif' font-size="6.9" font-weight="normal" text-anchor="middle" fill="#000" stroke="#000" stroke-width="0.14">Hypoxia</text>
<text x="97.50" y="264.80" font-family='"Liberation Sans", sans-serif' font-size="4.05" font-weight="normal" text-anchor="middle" fill="#222" stroke="#222" stroke-width="0.1">spatial1</text>
<text x="46.10" y="209.90" font-family='"Liberation Sans", sans-serif' font-size="4.05" font-weight="normal" text-anchor="middle" fill="#222" transform="rotate(-90 46.10 209.90)" stroke="#222" stroke-width="0.1">spatial2</text>
<g clip-path="url(#tc4)">
<rect x="167.00" y="159.40" width="96.25" height="101.10" fill="#eff5fa" opacity="1"/>
<ellipse cx="195.21" cy="176.59" rx="32.73" ry="15.16" fill="#8dbad9" opacity="0.9" filter="url(#b3)"/>
<ellipse cx="236.18" cy="171.53" rx="25.03" ry="8.59" fill="#9cc3de" opacity="0.85" filter="url(#b3)"/>
<ellipse cx="180.31" cy="192.76" rx="10.59" ry="10.11" fill="#7fb0d4" opacity="0.8" filter="url(#b3)"/>
<ellipse cx="213.84" cy="222.08" rx="43.31" ry="25.27" fill="#e4eef7" opacity="0.6" filter="url(#b5)"/>
<rect x="167.00" y="159.40" width="96.25" height="101.10" fill="#000" opacity="0.28" filter="url(#nJ_b)"/>
<rect x="167" y="159.4" width="96.25" height="42.46" fill="#000" opacity="0.5" filter="url(#nJ_bd)"/>
<rect x="167.00" y="159.40" width="96.25" height="101.10" fill="#000" opacity="0.75" filter="url(#nJ_w)"/>
<rect x="167.00" y="159.40" width="96.25" height="101.10" fill="#000" opacity="0.4" filter="url(#nJ_r)"/>
<polyline points="204.52,191.25 213.84,190.74 223.15,191.75 232.46,189.73 241.77,187.71 251.08,186.70 255.74,183.66" fill="none" stroke="#e88e72" stroke-width="1.1" opacity="0.8" stroke-linecap="butt" stroke-linejoin="round" filter="url(#b05)" stroke-dasharray="1.3 2.0"/>
<ellipse cx="204.80" cy="191.25" rx="0.77" ry="1.82" fill="#b2182b" opacity="0.85" filter="url(#b05)"/>
<polygon points="192.88,197.51 195.68,198.32 195.96,201.36 194.00,204.90 191.21,207.42 189.34,209.14 186.64,208.43 186.08,205.40 187.76,201.86 189.81,199.33" fill="#fff" stroke="#eb977c" stroke-width="1.0" stroke-dasharray="1.2 1.4" opacity="0.8"/>
</g>
<polygon points="192.88,197.51 195.68,198.32 195.96,201.36 194.00,204.90 191.21,207.42 189.34,209.14 186.64,208.43 186.08,205.40 187.76,201.86 189.81,199.33" fill="#fff" opacity="1"/>
<rect x="167.00" y="159.40" width="96.25" height="101.10" fill="none" stroke="#666" stroke-width="0.8"/>
<rect x="264.75" y="159.40" width="3.75" height="101.10" fill="url(#cm_RdBu_r)" stroke="#222" stroke-width="0.3" stroke-opacity="0.7"/>
<line x1="268.50" x2="269.50" y1="172.50" y2="172.50" stroke="#222" stroke-width="0.5"/>
<text x="271.20" y="174.11" font-family='"Liberation Sans", sans-serif' font-size="4.05" font-weight="normal" text-anchor="start" fill="#111" stroke="#111" stroke-width="0.12">8</text>
<line x1="268.50" x2="269.50" y1="191.30" y2="191.30" stroke="#222" stroke-width="0.5"/>
<text x="271.20" y="192.91" font-family='"Liberation Sans", sans-serif' font-size="4.05" font-weight="normal" text-anchor="start" fill="#111" stroke="#111" stroke-width="0.12">6</text>
<line x1="268.50" x2="269.50" y1="210.50" y2="210.50" stroke="#222" stroke-width="0.5"/>
<text x="271.20" y="212.11" font-family='"Liberation Sans", sans-serif' font-size="4.05" font-weight="normal" text-anchor="start" fill="#111" stroke="#111" stroke-width="0.12">4</text>
<line x1="268.50" x2="269.50" y1="229.40" y2="229.40" stroke="#222" stroke-width="0.5"/>
<text x="271.20" y="231.01" font-family='"Liberation Sans", sans-serif' font-size="4.05" font-weight="normal" text-anchor="start" fill="#111" stroke="#111" stroke-width="0.12">2</text>
<line x1="268.50" x2="269.50" y1="248.80" y2="248.80" stroke="#222" stroke-width="0.5"/>
<text x="271.20" y="250.41" font-family='"Liberation Sans", sans-serif' font-size="4.05" font-weight="normal" text-anchor="start" fill="#111" stroke="#111" stroke-width="0.12">0</text>
<text x="215.80" y="155.60" font-family='"Liberation Serif", serif' font-size="6.9" font-weight="normal" text-anchor="middle" fill="#000" stroke="#000" stroke-width="0.14">Apical junction</text>
<text x="216.12" y="264.90" font-family='"Liberation Sans", sans-serif' font-size="4.05" font-weight="normal" text-anchor="middle" fill="#222" stroke="#222" stroke-width="0.1">spatial1</text>
<text x="164.70" y="209.95" font-family='"Liberation Sans", sans-serif' font-size="4.05" font-weight="normal" text-anchor="middle" fill="#222" transform="rotate(-90 164.70 209.95)" stroke="#222" stroke-width="0.1">spatial2</text>
<g clip-path="url(#tc5)">
<rect x="286.25" y="159.40" width="96.25" height="101.10" fill="#e8f1f8" opacity="1"/>
<ellipse cx="307.01" cy="179.62" rx="19.25" ry="15.16" fill="#8fbbda" opacity="0.85" filter="url(#b3)"/>
<ellipse cx="300.49" cy="196.81" rx="9.62" ry="6.07" fill="#78abd1" opacity="0.85" filter="url(#b2)"/>
<ellipse cx="347.05" cy="171.53" rx="24.06" ry="7.58" fill="#9fc5df" opacity="0.8" filter="url(#b3)"/>
<ellipse cx="328.43" cy="232.19" rx="38.50" ry="22.24" fill="#d3e4f1" opacity="0.7" filter="url(#b5)"/>
<polyline points="312.60,198.83 323.77,193.27 333.09,192.76 342.40,192.26 351.71,189.73 361.02,187.20 372.20,185.18" fill="none" stroke="#ef9f84" stroke-width="2.6" opacity="0.8" stroke-linecap="round" stroke-linejoin="round" filter="url(#b1)"/>
<polyline points="368.47,173.55 374.06,184.68 374.06,197.82" fill="none" stroke="#f0a78e" stroke-width="1.8" opacity="0.7" stroke-linecap="round" stroke-linejoin="round" filter="url(#b1)"/>
<rect x="286.25" y="159.40" width="96.25" height="101.10" fill="#000" opacity="0.42" filter="url(#nG_b)"/>
<rect x="286.25" y="159.4" width="96.25" height="42.46" fill="#000" opacity="0.45" filter="url(#nJ_bd)"/>
<rect x="286.25" y="159.40" width="96.25" height="101.10" fill="#000" opacity="0.7" filter="url(#nJ_w)"/>
<rect x="286.25" y="159.40" width="96.25" height="101.10" fill="#000" opacity="0.65" filter="url(#nG_r)"/>
<polyline points="323.77,193.27 333.09,192.76 342.40,192.26 351.71,189.73 361.02,187.20 372.20,185.18" fill="none" stroke="#d9694f" stroke-width="1.0" opacity="0.7" stroke-linecap="butt" stroke-linejoin="round" filter="url(#b05)" stroke-dasharray="1.2 2.0"/>
<ellipse cx="324.05" cy="191.95" rx="1.16" ry="1.82" fill="#a01428" opacity="0.9" filter="url(#b05)"/>
<ellipse cx="327.96" cy="191.55" rx="1.16" ry="1.42" fill="#cf5a48" opacity="0.9" filter="url(#b05)"/>
<polygon points="312.13,197.51 314.93,198.32 315.21,201.36 313.25,204.90 310.46,207.42 308.59,209.14 305.89,208.43 305.33,205.40 307.01,201.86 309.06,199.33" fill="#fff" stroke="#ee9f86" stroke-width="1.0" stroke-dasharray="1.4 1.2" opacity="0.8"/>
<ellipse cx="361.02" cy="253.93" rx="1.93" ry="1.21" fill="#3b7ab8" opacity="0.9" filter="url(#b05)"/>
</g>
<polygon points="312.13,197.51 314.93,198.32 315.21,201.36 313.25,204.90 310.46,207.42 308.59,209.14 305.89,208.43 305.33,205.40 307.01,201.86 309.06,199.33" fill="#fff" opacity="1"/>
<rect x="286.25" y="159.40" width="96.25" height="101.10" fill="none" stroke="#666" stroke-width="0.8"/>
<rect x="384.15" y="159.40" width="3.75" height="101.10" fill="url(#cm_RdBu_r)" stroke="#222" stroke-width="0.3" stroke-opacity="0.7"/>
<line x1="387.90" x2="388.90" y1="176.30" y2="176.30" stroke="#222" stroke-width="0.5"/>
<text x="390.60" y="177.91" font-family='"Liberation Sans", sans-serif' font-size="4.05" font-weight="normal" text-anchor="start" fill="#111" stroke="#111" stroke-width="0.12">6</text>
<line x1="387.90" x2="388.90" y1="198.80" y2="198.80" stroke="#222" stroke-width="0.5"/>
<text x="390.60" y="200.41" font-family='"Liberation Sans", sans-serif' font-size="4.05" font-weight="normal" text-anchor="start" fill="#111" stroke="#111" stroke-width="0.12">4</text>
<line x1="387.90" x2="388.90" y1="221.30" y2="221.30" stroke="#222" stroke-width="0.5"/>
<text x="390.60" y="222.91" font-family='"Liberation Sans", sans-serif' font-size="4.05" font-weight="normal" text-anchor="start" fill="#111" stroke="#111" stroke-width="0.12">2</text>
<line x1="387.90" x2="388.90" y1="243.80" y2="243.80" stroke="#222" stroke-width="0.5"/>
<text x="390.60" y="245.41" font-family='"Liberation Sans", sans-serif' font-size="4.05" font-weight="normal" text-anchor="start" fill="#111" stroke="#111" stroke-width="0.12">0</text>
<text x="335.20" y="155.60" font-family='"Liberation Serif", serif' font-size="6.9" font-weight="normal" text-anchor="middle" fill="#000" stroke="#000" stroke-width="0.14">Coagulation</text>
<text x="335.38" y="264.90" font-family='"Liberation Sans", sans-serif' font-size="4.05" font-weight="normal" text-anchor="middle" fill="#222" stroke="#222" stroke-width="0.1">spatial1</text>
<text x="283.95" y="209.95" font-family='"Liberation Sans", sans-serif' font-size="4.05" font-weight="normal" text-anchor="middle" fill="#222" transform="rotate(-90 283.95 209.95)" stroke="#222" stroke-width="0.1">spatial2</text>
<text x="400.60" y="212.00" font-family='"Liberation Serif", serif' font-size="7.1" font-weight="normal" text-anchor="middle" fill="#000" transform="rotate(90 400.60 212.00)" stroke="#000" stroke-width="0.14">Pathway activity [t-value]</text>
<g clip-path="url(#tc6)">
<rect x="426.50" y="159.40" width="96.70" height="101.50" fill="#fff1eb" opacity="1"/>
<polygon points="439.00,171.60 442.00,166.40 451.00,164.80 461.00,164.80 464.00,168.00 463.00,174.00 459.00,178.00 462.00,182.00 458.00,186.00 452.00,189.00 448.00,193.00 447.20,199.00 444.00,200.80 441.00,197.00 437.00,195.00 432.40,194.00 431.60,186.00 431.60,176.00 434.00,174.00 437.60,175.60" fill="#ad2a2a" opacity="1" stroke="#d65a50" stroke-width="1.0" stroke-linejoin="round"/>
<polygon points="467.00,166.00 472.00,164.80 504.00,164.80 508.00,167.60 513.00,167.20 517.60,168.60 517.00,170.00 512.40,169.40 509.00,169.80 508.00,174.00 504.00,178.00 501.00,176.00 502.00,177.60 497.00,180.40 493.00,183.20 490.00,181.20 484.00,184.20 478.00,182.20 473.00,183.20 468.00,180.00 466.00,175.00 469.00,170.00" fill="#ad2a2a" opacity="1" stroke="#d65a50" stroke-width="1.0" stroke-linejoin="round"/>
<g clip-path="url(#mesE)">
<rect x="426.50" y="159.40" width="96.70" height="101.50" fill="#000" opacity="0.7" filter="url(#nE_l2)"/>
<rect x="426.50" y="159.40" width="96.70" height="101.50" fill="#000" opacity="0.5" filter="url(#nE_d)"/>
<rect x="426.50" y="159.40" width="96.70" height="101.50" fill="#000" opacity="0.55" filter="url(#nE_l)"/>
</g>
<ellipse cx="468.40" cy="204.00" rx="1.35" ry="1.35" fill="#8e1518" opacity="1"/>
<ellipse cx="482.00" cy="221.00" rx="1.93" ry="1.93" fill="#8e1518" opacity="1"/>
<ellipse cx="484.00" cy="231.60" rx="4.06" ry="4.05" fill="#8e1518" opacity="1"/>
</g>
<polygon points="501.62,173.61 503.96,172.19 507.23,172.59 508.54,174.83 506.95,177.26 503.68,177.77 501.62,176.25" fill="#fff" opacity="1"/>
<polygon points="452.50,197.67 455.31,198.48 455.59,201.52 453.63,205.07 450.82,207.61 448.95,209.34 446.24,208.63 445.67,205.58 447.36,202.03 449.42,199.49" fill="#fff7f4" opacity="1"/>
<rect x="426.50" y="159.40" width="96.70" height="101.50" fill="none" stroke="#666" stroke-width="0.8"/>
<rect x="525.10" y="159.40" width="3.80" height="101.50" fill="url(#cm_Reds)" stroke="#222" stroke-width="0.3" stroke-opacity="0.7"/>
<line x1="528.90" x2="529.90" y1="159.60" y2="159.60" stroke="#222" stroke-width="0.5"/>
<text x="531.60" y="161.21" font-family='"Liberation Sans", sans-serif' font-size="4.05" font-weight="normal" text-anchor="start" fill="#111" stroke="#111" stroke-width="0.12">1.0</text>
<line x1="528.90" x2="529.90" y1="179.80" y2="179.80" stroke="#222" stroke-width="0.5"/>
<text x="531.60" y="181.41" font-family='"Liberation Sans", sans-serif' font-size="4.05" font-weight="normal" text-anchor="start" fill="#111" stroke="#111" stroke-width="0.12">0.8</text>
<line x1="528.90" x2="529.90" y1="200.10" y2="200.10" stroke="#222" stroke-width="0.5"/>
<text x="531.60" y="201.71" font-family='"Liberation Sans", sans-serif' font-size="4.05" font-weight="normal" text-anchor="start" fill="#111" stroke="#111" stroke-width="0.12">0.6</text>
<line x1="528.90" x2="529.90" y1="220.40" y2="220.40" stroke="#222" stroke-width="0.5"/>
<text x="531.60" y="222.01" font-family='"Liberation Sans", sans-serif' font-size="4.05" font-weight="normal" text-anchor="start" fill="#111" stroke="#111" stroke-width="0.12">0.4</text>
<line x1="528.90" x2="529.90" y1="240.70" y2="240.70" stroke="#222" stroke-width="0.5"/>
<text x="531.60" y="242.31" font-family='"Liberation Sans", sans-serif' font-size="4.05" font-weight="normal" text-anchor="start" fill="#111" stroke="#111" stroke-width="0.12">0.2</text>
<line x1="528.90" x2="529.90" y1="260.80" y2="260.80" stroke="#222" stroke-width="0.5"/>
<text x="531.60" y="262.41" font-family='"Liberation Sans", sans-serif' font-size="4.05" font-weight="normal" text-anchor="start" fill="#111" stroke="#111" stroke-width="0.12">0.0</text>
<text x="449.00" y="155.40" font-family='"Liberation Serif", serif' font-size="6.9" font-weight="normal" text-anchor="start" fill="#000" stroke="#000" stroke-width="0.14">MES-like</text>
<text x="494.00" y="155.40" font-family='"Liberation Serif", serif' font-size="6.8" font-weight="normal" text-anchor="start" fill="#000" stroke="#000" stroke-width="0.14">TRPS1</text>
<path d="M483.80,153.30 L478.20,153.30 M480.20,151.30 L478.20,153.30 L480.20,155.30" fill="none" stroke="#000" stroke-width="0.95" stroke-linecap="round" stroke-linejoin="round"/>
<path d="M484.80,153.30 L490.40,153.30 M488.40,151.30 L490.40,153.30 L488.40,155.30" fill="none" stroke="#000" stroke-width="0.95" stroke-linecap="round" stroke-linejoin="round"/>
<text x="475.85" y="265.30" font-family='"Liberation Sans", sans-serif' font-size="4.05" font-weight="normal" text-anchor="middle" fill="#222" stroke="#222" stroke-width="0.1">spatial1</text>
<text x="424.20" y="210.15" font-family='"Liberation Sans", sans-serif' font-size="4.05" font-weight="normal" text-anchor="middle" fill="#222" transform="rotate(-90 424.20 210.15)" stroke="#222" stroke-width="0.1">spatial2</text>
<text x="542.60" y="210.00" font-family='"Liberation Serif", serif' font-size="6.85" font-weight="normal" text-anchor="middle" fill="#000" transform="rotate(90 542.60 210.00)" stroke="#000" stroke-width="0.14">Local cosine similarity</text>
<g clip-path="url(#tc7)">
<rect x="47.85" y="291.90" width="96.75" height="101.25" fill="#8c689c" opacity="1"/>
<rect x="47.85" y="291.90" width="96.75" height="101.25" fill="#000" opacity="0.5" filter="url(#nD_d)"/>
<rect x="47.85" y="291.90" width="96.75" height="101.25" fill="#000" opacity="0.45" filter="url(#nD_l)"/>
<polygon points="60.36,304.07 63.36,298.88 72.36,297.29 82.37,297.29 85.37,300.48 84.37,306.46 80.37,310.45 83.37,314.44 79.37,318.43 73.36,321.43 69.36,325.42 68.56,331.40 65.36,333.20 62.36,329.41 58.36,327.41 53.75,326.41 52.95,318.43 52.95,308.46 55.35,306.46 58.96,308.06" fill="#72c6b0" opacity="0.95" filter="url(#b1)"/>
<polygon points="88.37,298.48 93.37,297.29 125.39,297.29 129.39,300.08 134.39,299.68 139.00,301.08 138.40,302.47 133.79,301.88 130.39,302.27 129.39,306.46 125.39,310.45 122.39,308.46 123.39,310.06 118.39,312.85 114.38,315.64 111.38,313.65 105.38,316.64 99.38,314.64 94.37,315.64 89.37,312.45 87.37,307.46 90.37,302.47" fill="#72c6b0" opacity="0.95" filter="url(#b1)"/>
<g clip-path="url(#mesM)">
<rect x="47.85" y="291.90" width="96.75" height="101.25" fill="#000" opacity="0.7" filter="url(#nD_g)"/>
<rect x="47.85" y="291.90" width="96.75" height="101.25" fill="#000" opacity="0.7" filter="url(#nD_p)"/>
<rect x="47.85" y="291.90" width="96.75" height="101.25" fill="#000" opacity="0.7" filter="url(#nD_y)"/>
</g>
<ellipse cx="106.16" cy="362.77" rx="2.42" ry="2.02" fill="#58ad9f" opacity="0.9" filter="url(#b05)"/>
<ellipse cx="109.91" cy="376.95" rx="3.39" ry="1.82" fill="#58ad9f" opacity="0.9" filter="url(#b05)" transform="rotate(30 109.91 376.95)"/>
<ellipse cx="85.57" cy="341.51" rx="1.45" ry="1.22" fill="#58ad9f" opacity="0.8" filter="url(#b05)"/>
<rect x="47.85" y="291.90" width="96.75" height="101.25" fill="url(#stripes)" opacity="0.3"/>
</g>
<polygon points="73.87,330.07 76.68,330.88 76.96,333.92 74.99,337.46 72.18,339.99 70.31,341.71 67.60,341.01 67.03,337.97 68.72,334.42 70.78,331.89" fill="#fff"/>
<polygon points="123.01,306.07 125.35,304.66 128.63,305.06 129.94,307.29 128.35,309.72 125.07,310.23 123.01,308.71" fill="#fff"/>
<rect x="86.89" y="329.32" width="1.1" height="1.1" fill="#fff" opacity="0.9"/>
<rect x="94.85" y="331.85" width="1.1" height="1.1" fill="#fff" opacity="0.9"/>
<rect x="97.19" y="333.87" width="1.1" height="1.1" fill="#fff" opacity="0.9"/>
<rect x="96.44" y="348.56" width="1.1" height="1.1" fill="#fff" opacity="0.9"/>
<rect x="61.15" y="352.10" width="1.1" height="1.1" fill="#fff" opacity="0.9"/>
<rect x="55.53" y="344.00" width="1.1" height="1.1" fill="#fff" opacity="0.9"/>
<rect x="64.42" y="329.32" width="1.1" height="1.1" fill="#fff" opacity="0.9"/>
<rect x="56.94" y="327.80" width="1.1" height="1.1" fill="#fff" opacity="0.9"/>
<rect x="122.46" y="354.12" width="1.1" height="1.1" fill="#fff" opacity="0.9"/>
<rect x="75.19" y="329.32" width="1.1" height="1.1" fill="#fff" opacity="0.9"/>
<rect x="79.40" y="305.52" width="1.1" height="1.1" fill="#fff" opacity="0.9"/>
<rect x="99.06" y="302.99" width="1.1" height="1.1" fill="#fff" opacity="0.9"/>
<rect x="58.81" y="302.99" width="1.1" height="1.1" fill="#fff" opacity="0.9"/>
<rect x="91.57" y="370.32" width="1.1" height="1.1" fill="#fff" opacity="0.9"/>
<rect x="97.19" y="386.02" width="1.1" height="1.1" fill="#fff" opacity="0.9"/>
<rect x="53.19" y="369.82" width="1.1" height="1.1" fill="#fff" opacity="0.9"/>
<rect x="47.85" y="291.90" width="96.75" height="101.25" fill="none" stroke="#666" stroke-width="0.8"/>
<rect x="146.10" y="291.90" width="3.50" height="101.25" fill="url(#cm_viridis)" stroke="#222" stroke-width="0.3" stroke-opacity="0.7"/>
<line x1="149.60" x2="150.60" y1="308.80" y2="308.80" stroke="#222" stroke-width="0.5"/>
<text x="152.30" y="310.41" font-family='"Liberation Sans", sans-serif' font-size="4.05" font-weight="normal" text-anchor="start" fill="#111" stroke="#111" stroke-width="0.12">5</text>
<line x1="149.60" x2="150.60" y1="325.60" y2="325.60" stroke="#222" stroke-width="0.5"/>
<text x="152.30" y="327.21" font-family='"Liberation Sans", sans-serif' font-size="4.05" font-weight="normal" text-anchor="start" fill="#111" stroke="#111" stroke-width="0.12">4</text>
<line x1="149.60" x2="150.60" y1="342.50" y2="342.50" stroke="#222" stroke-width="0.5"/>
<text x="152.30" y="344.11" font-family='"Liberation Sans", sans-serif' font-size="4.05" font-weight="normal" text-anchor="start" fill="#111" stroke="#111" stroke-width="0.12">3</text>
<line x1="149.60" x2="150.60" y1="359.30" y2="359.30" stroke="#222" stroke-width="0.5"/>
<text x="152.30" y="360.91" font-family='"Liberation Sans", sans-serif' font-size="4.05" font-weight="normal" text-anchor="start" fill="#111" stroke="#111" stroke-width="0.12">2</text>
<line x1="149.60" x2="150.60" y1="376.30" y2="376.30" stroke="#222" stroke-width="0.5"/>
<text x="152.30" y="377.91" font-family='"Liberation Sans", sans-serif' font-size="4.05" font-weight="normal" text-anchor="start" fill="#111" stroke="#111" stroke-width="0.12">1</text>
<text x="97.00" y="290.00" font-family='"Liberation Serif", serif' font-size="6.9" font-weight="normal" text-anchor="middle" fill="#000" stroke="#000" stroke-width="0.14">MES-like</text>
<text x="97.22" y="397.55" font-family='"Liberation Sans", sans-serif' font-size="4.05" font-weight="normal" text-anchor="middle" fill="#222" stroke="#222" stroke-width="0.1">spatial1</text>
<text x="45.55" y="342.52" font-family='"Liberation Sans", sans-serif' font-size="4.05" font-weight="normal" text-anchor="middle" fill="#222" transform="rotate(-90 45.55 342.52)" stroke="#222" stroke-width="0.1">spatial2</text>
<g clip-path="url(#tc8)">
<rect x="166.25" y="291.90" width="96.65" height="101.30" fill="#8c689c" opacity="1"/>
<rect x="166.25" y="291.90" width="96.65" height="101.30" fill="#000" opacity="0.5" filter="url(#nD_d)"/>
<rect x="166.25" y="291.90" width="96.65" height="101.30" fill="#000" opacity="0.45" filter="url(#nD_l)"/>
<polyline points="194.58,322.29 203.93,325.84 211.41,323.30 218.89,324.82 228.24,323.30 237.59,319.25 246.94,319.76 253.49,323.30" fill="none" stroke="#5fb6a2" stroke-width="1.3" opacity="0.85" stroke-linecap="butt" stroke-linejoin="round" filter="url(#b05)" stroke-dasharray="2.2 1.6"/>
<polyline points="246.94,306.08 252.55,314.19 253.49,323.30" fill="none" stroke="#5fb6a2" stroke-width="1.0" opacity="0.6" stroke-linecap="butt" stroke-linejoin="round" filter="url(#b05)" stroke-dasharray="1.5 1.6"/>
<polyline points="194.58,309.12 203.93,312.16 213.28,316.21" fill="none" stroke="#5fb6a2" stroke-width="0.9" opacity="0.5" stroke-linecap="butt" stroke-linejoin="round" filter="url(#b05)" stroke-dasharray="1.2 2.2"/>
<polygon points="192.24,330.09 195.05,330.90 195.33,333.94 193.36,337.49 190.56,340.02 188.69,341.74 185.98,341.03 185.41,337.99 187.10,334.45 189.15,331.91" fill="none" opacity="1" filter="url(#b05)" stroke="#7fd0a6" stroke-width="1.6" stroke-linejoin="round"/>
<ellipse cx="203.93" cy="325.84" rx="1.93" ry="1.52" fill="#d8e04a" opacity="0.95" filter="url(#b05)"/>
<ellipse cx="174.94" cy="355.72" rx="1.93" ry="1.22" fill="#5fb6a2" opacity="0.8" filter="url(#b05)"/>
<rect x="166.25" y="291.90" width="96.65" height="101.30" fill="#000" opacity="0.22" filter="url(#nD_t)"/>
<rect x="166.25" y="291.90" width="96.65" height="101.30" fill="url(#stripes)" opacity="0.3"/>
</g>
<polygon points="192.24,330.09 195.05,330.90 195.33,333.94 193.36,337.49 190.56,340.02 188.69,341.74 185.98,341.03 185.41,337.99 187.10,334.45 189.15,331.91" fill="#fff"/>
<polygon points="241.33,306.08 243.67,304.66 246.94,305.07 248.25,307.30 246.66,309.73 243.39,310.24 241.33,308.72" fill="#fff"/>
<rect x="205.25" y="329.34" width="1.1" height="1.1" fill="#fff" opacity="0.9"/>
<rect x="213.20" y="331.87" width="1.1" height="1.1" fill="#fff" opacity="0.9"/>
<rect x="215.54" y="333.90" width="1.1" height="1.1" fill="#fff" opacity="0.9"/>
<rect x="214.79" y="348.58" width="1.1" height="1.1" fill="#fff" opacity="0.9"/>
<rect x="179.53" y="352.13" width="1.1" height="1.1" fill="#fff" opacity="0.9"/>
<rect x="173.92" y="344.03" width="1.1" height="1.1" fill="#fff" opacity="0.9"/>
<rect x="182.81" y="329.34" width="1.1" height="1.1" fill="#fff" opacity="0.9"/>
<rect x="175.33" y="327.82" width="1.1" height="1.1" fill="#fff" opacity="0.9"/>
<rect x="240.78" y="354.16" width="1.1" height="1.1" fill="#fff" opacity="0.9"/>
<rect x="193.56" y="329.34" width="1.1" height="1.1" fill="#fff" opacity="0.9"/>
<rect x="197.77" y="305.53" width="1.1" height="1.1" fill="#fff" opacity="0.9"/>
<rect x="217.41" y="303.00" width="1.1" height="1.1" fill="#fff" opacity="0.9"/>
<rect x="177.20" y="303.00" width="1.1" height="1.1" fill="#fff" opacity="0.9"/>
<rect x="209.92" y="370.36" width="1.1" height="1.1" fill="#fff" opacity="0.9"/>
<rect x="215.54" y="386.07" width="1.1" height="1.1" fill="#fff" opacity="0.9"/>
<rect x="171.59" y="369.86" width="1.1" height="1.1" fill="#fff" opacity="0.9"/>
<rect x="166.25" y="291.90" width="96.65" height="101.30" fill="none" stroke="#666" stroke-width="0.8"/>
<rect x="264.15" y="291.90" width="3.75" height="101.30" fill="url(#cm_viridis)" stroke="#222" stroke-width="0.3" stroke-opacity="0.7"/>
<line x1="267.90" x2="268.90" y1="304.30" y2="304.30" stroke="#222" stroke-width="0.5"/>
<text x="270.60" y="305.91" font-family='"Liberation Sans", sans-serif' font-size="4.05" font-weight="normal" text-anchor="start" fill="#111" stroke="#111" stroke-width="0.12">4</text>
<line x1="267.90" x2="268.90" y1="326.80" y2="326.80" stroke="#222" stroke-width="0.5"/>
<text x="270.60" y="328.41" font-family='"Liberation Sans", sans-serif' font-size="4.05" font-weight="normal" text-anchor="start" fill="#111" stroke="#111" stroke-width="0.12">3</text>
<line x1="267.90" x2="268.90" y1="349.30" y2="349.30" stroke="#222" stroke-width="0.5"/>
<text x="270.60" y="350.91" font-family='"Liberation Sans", sans-serif' font-size="4.05" font-weight="normal" text-anchor="start" fill="#111" stroke="#111" stroke-width="0.12">2</text>
<line x1="267.90" x2="268.90" y1="371.80" y2="371.80" stroke="#222" stroke-width="0.5"/>
<text x="270.60" y="373.41" font-family='"Liberation Sans", sans-serif' font-size="4.05" font-weight="normal" text-anchor="start" fill="#111" stroke="#111" stroke-width="0.12">1</text>
<text x="215.40" y="290.00" font-family='"Liberation Serif", serif' font-size="6.9" font-weight="normal" text-anchor="middle" fill="#000" stroke="#000" stroke-width="0.14">Mural</text>
<text x="215.57" y="397.60" font-family='"Liberation Sans", sans-serif' font-size="4.05" font-weight="normal" text-anchor="middle" fill="#222" stroke="#222" stroke-width="0.1">spatial1</text>
<text x="163.95" y="342.55" font-family='"Liberation Sans", sans-serif' font-size="4.05" font-weight="normal" text-anchor="middle" fill="#222" transform="rotate(-90 163.95 342.55)" stroke="#222" stroke-width="0.1">spatial2</text>
<g clip-path="url(#tc9)">
<rect x="285.50" y="291.90" width="96.60" height="101.30" fill="#8c689c" opacity="1"/>
<rect x="285.50" y="291.90" width="96.60" height="101.30" fill="#000" opacity="0.5" filter="url(#nD_d)"/>
<rect x="285.50" y="291.90" width="96.60" height="101.30" fill="#000" opacity="0.45" filter="url(#nD_l)"/>
<polyline points="313.81,322.29 323.16,325.84 330.64,323.30 338.11,324.82 347.46,323.30 356.81,319.25 366.15,319.76 372.69,323.30" fill="none" stroke="#5fb6a2" stroke-width="3.2" opacity="0.55" stroke-linecap="round" stroke-linejoin="round" filter="url(#b15)"/>
<polyline points="368.02,306.08 372.69,316.21 372.69,332.42" fill="none" stroke="#5fb6a2" stroke-width="2.5" opacity="0.45" stroke-linecap="round" stroke-linejoin="round" filter="url(#b15)"/>
<ellipse cx="332.51" cy="368.89" rx="28.98" ry="14.18" fill="#5fa8a2" opacity="0.4" filter="url(#b5)"/>
<ellipse cx="313.81" cy="347.62" rx="11.59" ry="10.13" fill="#5fa8a2" opacity="0.3" filter="url(#b3)"/>
<ellipse cx="351.20" cy="347.62" rx="9.66" ry="10.13" fill="#5fa8a2" opacity="0.3" filter="url(#b3)"/>
<rect x="285.50" y="291.90" width="96.60" height="101.30" fill="#000" opacity="0.55" filter="url(#nD_t)"/>
<rect x="285.50" y="291.90" width="96.60" height="101.30" fill="#000" opacity="0.45" filter="url(#nD_t2)"/>
<rect x="285.50" y="291.90" width="96.60" height="101.30" fill="#000" opacity="0.3" filter="url(#nD_y)"/>
<polygon points="311.48,330.09 314.28,330.90 314.56,333.94 312.60,337.49 309.79,340.02 307.93,341.74 305.22,341.03 304.65,337.99 306.34,334.45 308.39,331.91" fill="none" opacity="1" filter="url(#b05)" stroke="#6cc4a6" stroke-width="1.0" stroke-linejoin="round"/>
<rect x="285.50" y="291.90" width="96.60" height="101.30" fill="url(#stripes)" opacity="0.3"/>
</g>
<polygon points="311.48,330.09 314.28,330.90 314.56,333.94 312.60,337.49 309.79,340.02 307.93,341.74 305.22,341.03 304.65,337.99 306.34,334.45 308.39,331.91" fill="#fff"/>
<polygon points="360.54,306.08 362.88,304.66 366.15,305.07 367.46,307.30 365.87,309.73 362.60,310.24 360.54,308.72" fill="#fff"/>
<rect x="324.48" y="329.34" width="1.1" height="1.1" fill="#fff" opacity="0.9"/>
<rect x="332.42" y="331.87" width="1.1" height="1.1" fill="#fff" opacity="0.9"/>
<rect x="334.76" y="333.90" width="1.1" height="1.1" fill="#fff" opacity="0.9"/>
<rect x="334.01" y="348.58" width="1.1" height="1.1" fill="#fff" opacity="0.9"/>
<rect x="298.78" y="352.13" width="1.1" height="1.1" fill="#fff" opacity="0.9"/>
<rect x="293.17" y="344.03" width="1.1" height="1.1" fill="#fff" opacity="0.9"/>
<rect x="302.05" y="329.34" width="1.1" height="1.1" fill="#fff" opacity="0.9"/>
<rect x="294.57" y="327.82" width="1.1" height="1.1" fill="#fff" opacity="0.9"/>
<rect x="359.99" y="354.16" width="1.1" height="1.1" fill="#fff" opacity="0.9"/>
<rect x="312.80" y="329.34" width="1.1" height="1.1" fill="#fff" opacity="0.9"/>
<rect x="317.00" y="305.53" width="1.1" height="1.1" fill="#fff" opacity="0.9"/>
<rect x="336.63" y="303.00" width="1.1" height="1.1" fill="#fff" opacity="0.9"/>
<rect x="296.44" y="303.00" width="1.1" height="1.1" fill="#fff" opacity="0.9"/>
<rect x="329.15" y="370.36" width="1.1" height="1.1" fill="#fff" opacity="0.9"/>
<rect x="334.76" y="386.07" width="1.1" height="1.1" fill="#fff" opacity="0.9"/>
<rect x="290.83" y="369.86" width="1.1" height="1.1" fill="#fff" opacity="0.9"/>
<rect x="285.50" y="291.90" width="96.60" height="101.30" fill="none" stroke="#666" stroke-width="0.8"/>
<rect x="383.60" y="291.90" width="3.55" height="101.30" fill="url(#cm_viridis)" stroke="#222" stroke-width="0.3" stroke-opacity="0.7"/>
<line x1="387.15" x2="388.15" y1="302.00" y2="302.00" stroke="#222" stroke-width="0.5"/>
<text x="389.85" y="303.61" font-family='"Liberation Sans", sans-serif' font-size="4.05" font-weight="normal" text-anchor="start" fill="#111" stroke="#111" stroke-width="0.12">2.00</text>
<line x1="387.15" x2="388.15" y1="313.70" y2="313.70" stroke="#222" stroke-width="0.5"/>
<text x="389.85" y="315.31" font-family='"Liberation Sans", sans-serif' font-size="4.05" font-weight="normal" text-anchor="start" fill="#111" stroke="#111" stroke-width="0.12">1.75</text>
<line x1="387.15" x2="388.15" y1="325.40" y2="325.40" stroke="#222" stroke-width="0.5"/>
<text x="389.85" y="327.01" font-family='"Liberation Sans", sans-serif' font-size="4.05" font-weight="normal" text-anchor="start" fill="#111" stroke="#111" stroke-width="0.12">1.50</text>
<line x1="387.15" x2="388.15" y1="336.90" y2="336.90" stroke="#222" stroke-width="0.5"/>
<text x="389.85" y="338.51" font-family='"Liberation Sans", sans-serif' font-size="4.05" font-weight="normal" text-anchor="start" fill="#111" stroke="#111" stroke-width="0.12">1.25</text>
<line x1="387.15" x2="388.15" y1="348.20" y2="348.20" stroke="#222" stroke-width="0.5"/>
<text x="389.85" y="349.81" font-family='"Liberation Sans", sans-serif' font-size="4.05" font-weight="normal" text-anchor="start" fill="#111" stroke="#111" stroke-width="0.12">1.00</text>
<line x1="387.15" x2="388.15" y1="359.60" y2="359.60" stroke="#222" stroke-width="0.5"/>
<text x="389.85" y="361.21" font-family='"Liberation Sans", sans-serif' font-size="4.05" font-weight="normal" text-anchor="start" fill="#111" stroke="#111" stroke-width="0.12">0.75</text>
<line x1="387.15" x2="388.15" y1="371.20" y2="371.20" stroke="#222" stroke-width="0.5"/>
<text x="389.85" y="372.81" font-family='"Liberation Sans", sans-serif' font-size="4.05" font-weight="normal" text-anchor="start" fill="#111" stroke="#111" stroke-width="0.12">0.50</text>
<line x1="387.15" x2="388.15" y1="382.70" y2="382.70" stroke="#222" stroke-width="0.5"/>
<text x="389.85" y="384.31" font-family='"Liberation Sans", sans-serif' font-size="4.05" font-weight="normal" text-anchor="start" fill="#111" stroke="#111" stroke-width="0.12">0.25</text>
<text x="336.20" y="290.00" font-family='"Liberation Serif", serif' font-size="6.9" font-weight="normal" text-anchor="middle" fill="#000" stroke="#000" stroke-width="0.14">Endothelial</text>
<text x="334.80" y="397.60" font-family='"Liberation Sans", sans-serif' font-size="4.05" font-weight="normal" text-anchor="middle" fill="#222" stroke="#222" stroke-width="0.1">spatial1</text>
<text x="283.20" y="342.55" font-family='"Liberation Sans", sans-serif' font-size="4.05" font-weight="normal" text-anchor="middle" fill="#222" transform="rotate(-90 283.20 342.55)" stroke="#222" stroke-width="0.1">spatial2</text>
<text x="400.20" y="343.50" font-family='"Liberation Serif", serif' font-size="6.95" font-weight="normal" text-anchor="middle" fill="#000" transform="rotate(90 400.20 343.50)" stroke="#000" stroke-width="0.14">Estimated cell abundance [count]</text>
<g clip-path="url(#tc10)">
<rect x="426.50" y="292.00" width="96.50" height="101.10" fill="#e7f0f7" opacity="1"/>
<rect x="426.50" y="292.00" width="96.50" height="101.10" fill="#000" opacity="0.5" filter="url(#nT_b)"/>
<rect x="426.50" y="292.00" width="96.50" height="101.10" fill="#000" opacity="0.5" filter="url(#nT_w)"/>
<polygon points="438.97,304.15 441.97,298.97 450.95,297.38 460.93,297.38 463.92,300.57 462.92,306.54 458.93,310.53 461.93,314.51 457.93,318.50 451.95,321.48 447.96,325.47 447.16,331.44 443.96,333.24 440.97,329.45 436.98,327.46 432.39,326.46 431.59,318.50 431.59,308.53 433.98,306.54 437.58,308.14" fill="#f6ddd2" opacity="0.95" filter="url(#b1)"/>
<polygon points="466.92,298.57 471.91,297.38 503.84,297.38 507.83,300.17 512.82,299.77 517.41,301.16 516.81,302.56 512.22,301.96 508.83,302.36 507.83,306.54 503.84,310.53 500.85,308.53 501.84,310.13 496.85,312.92 492.86,315.71 489.87,313.71 483.88,316.70 477.89,314.71 472.90,315.71 467.91,312.52 465.92,307.54 468.91,302.56" fill="#f6ddd2" opacity="0.95" filter="url(#b1)"/>
<g clip-path="url(#mesT)">
<rect x="426.50" y="292.00" width="96.50" height="101.10" fill="#000" opacity="0.75" filter="url(#nT_r)"/>
<rect x="426.50" y="292.00" width="96.50" height="101.10" fill="#000" opacity="0.45" filter="url(#nT_rr)"/>
<rect x="426.50" y="292.00" width="96.50" height="101.10" fill="#000" opacity="0.7" filter="url(#nT_lb)"/>
</g>
<ellipse cx="481.39" cy="359.23" rx="1.93" ry="1.82" fill="#f0b49e" opacity="0.9" filter="url(#b05)"/>
<ellipse cx="483.73" cy="372.88" rx="2.90" ry="2.02" fill="#ec9f88" opacity="0.9" filter="url(#b05)" transform="rotate(35 483.73 372.88)"/>
<ellipse cx="437.98" cy="310.70" rx="1.16" ry="1.62" fill="#3b7ab8" opacity="0.9" filter="url(#b05)" transform="rotate(30 437.98 310.70)"/>
</g>
<polygon points="452.45,330.11 455.25,330.92 455.53,333.96 453.57,337.50 450.77,340.02 448.90,341.74 446.19,341.03 445.63,338.00 447.32,334.46 449.37,331.93" fill="#fff" opacity="0.6"/>
<polygon points="501.47,306.15 503.80,304.74 507.07,305.14 508.37,307.37 506.79,309.79 503.52,310.30 501.47,308.78" fill="#fff"/>
<rect x="426.50" y="292.00" width="96.50" height="101.10" fill="none" stroke="#666" stroke-width="0.8"/>
<rect x="524.40" y="292.00" width="3.70" height="101.10" fill="url(#cm_RdBu_r)" stroke="#222" stroke-width="0.3" stroke-opacity="0.7"/>
<line x1="528.10" x2="529.10" y1="298.30" y2="298.30" stroke="#222" stroke-width="0.5"/>
<text x="530.80" y="299.91" font-family='"Liberation Sans", sans-serif' font-size="4.05" font-weight="normal" text-anchor="start" fill="#111" stroke="#111" stroke-width="0.12">15.0</text>
<line x1="528.10" x2="529.10" y1="305.70" y2="305.70" stroke="#222" stroke-width="0.5"/>
<text x="530.80" y="307.31" font-family='"Liberation Sans", sans-serif' font-size="4.05" font-weight="normal" text-anchor="start" fill="#111" stroke="#111" stroke-width="0.12">12.5</text>
<line x1="528.10" x2="529.10" y1="313.00" y2="313.00" stroke="#222" stroke-width="0.5"/>
<text x="530.80" y="314.61" font-family='"Liberation Sans", sans-serif' font-size="4.05" font-weight="normal" text-anchor="start" fill="#111" stroke="#111" stroke-width="0.12">10.0</text>
<line x1="528.10" x2="529.10" y1="320.40" y2="320.40" stroke="#222" stroke-width="0.5"/>
<text x="530.80" y="322.01" font-family='"Liberation Sans", sans-serif' font-size="4.05" font-weight="normal" text-anchor="start" fill="#111" stroke="#111" stroke-width="0.12">7.5</text>
<line x1="528.10" x2="529.10" y1="327.60" y2="327.60" stroke="#222" stroke-width="0.5"/>
<text x="530.80" y="329.21" font-family='"Liberation Sans", sans-serif' font-size="4.05" font-weight="normal" text-anchor="start" fill="#111" stroke="#111" stroke-width="0.12">5.0</text>
<line x1="528.10" x2="529.10" y1="335.00" y2="335.00" stroke="#222" stroke-width="0.5"/>
<text x="530.80" y="336.61" font-family='"Liberation Sans", sans-serif' font-size="4.05" font-weight="normal" text-anchor="start" fill="#111" stroke="#111" stroke-width="0.12">2.5</text>
<line x1="528.10" x2="529.10" y1="342.50" y2="342.50" stroke="#222" stroke-width="0.5"/>
<text x="530.80" y="344.11" font-family='"Liberation Sans", sans-serif' font-size="4.05" font-weight="normal" text-anchor="start" fill="#111" stroke="#111" stroke-width="0.12">0.0</text>
<line x1="528.10" x2="529.10" y1="368.80" y2="368.80" stroke="#222" stroke-width="0.5"/>
<text x="530.80" y="370.41" font-family='"Liberation Sans", sans-serif' font-size="4.05" font-weight="normal" text-anchor="start" fill="#111" stroke="#111" stroke-width="0.12">−2.5</text>
<text x="481.00" y="290.00" font-family='"Liberation Serif", serif' font-size="6.8" font-weight="normal" text-anchor="middle" fill="#000" stroke="#000" stroke-width="0.14">TRPS1</text>
<text x="475.75" y="397.50" font-family='"Liberation Sans", sans-serif' font-size="4.05" font-weight="normal" text-anchor="middle" fill="#222" stroke="#222" stroke-width="0.1">spatial1</text>
<text x="424.20" y="342.55" font-family='"Liberation Sans", sans-serif' font-size="4.05" font-weight="normal" text-anchor="middle" fill="#222" transform="rotate(-90 424.20 342.55)" stroke="#222" stroke-width="0.1">spatial2</text>
<text x="542.60" y="345.00" font-family='"Liberation Serif", serif' font-size="6.8" font-weight="normal" text-anchor="middle" fill="#000" transform="rotate(90 542.60 345.00)" stroke="#000" stroke-width="0.14">TF activity [t-value]</text>
</g>
</svg>
</body></html>
